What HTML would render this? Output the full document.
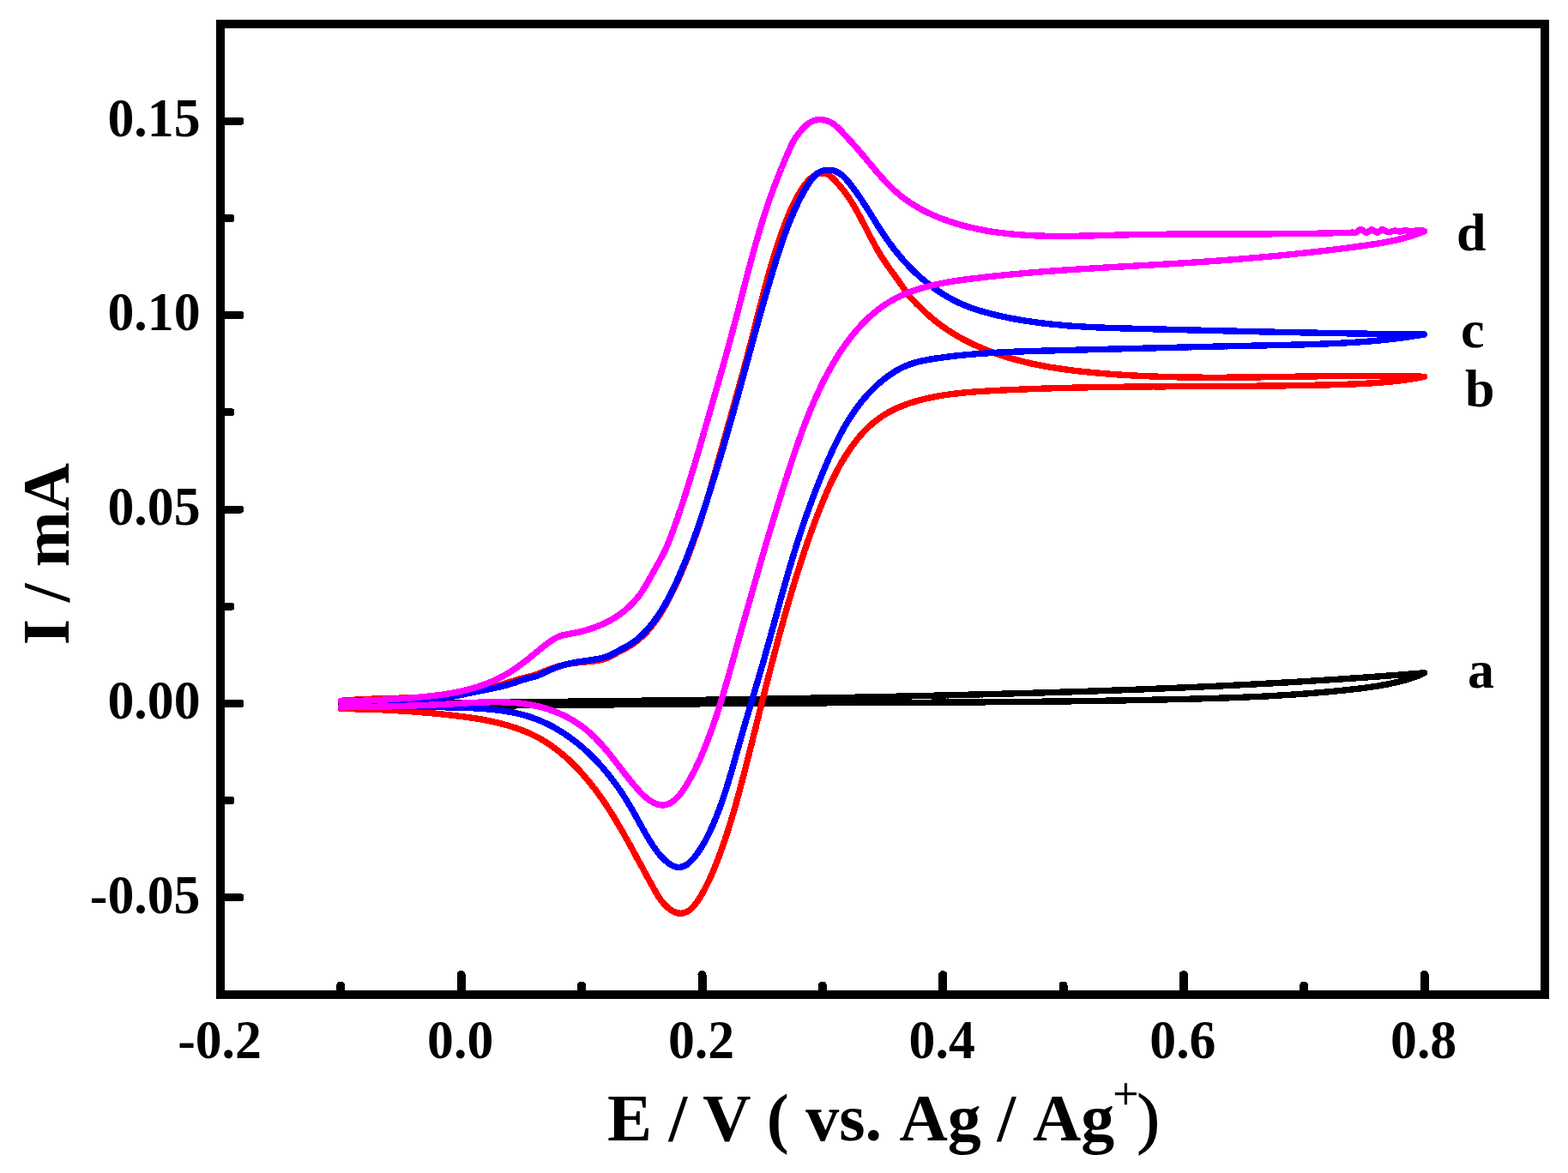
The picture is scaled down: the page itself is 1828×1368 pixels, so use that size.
<!DOCTYPE html>
<html lang="en">
<head>
<meta charset="utf-8">
<title>Cyclic voltammograms</title>
<style>
html,body{margin:0;padding:0;background:#fff;}
body{width:1828px;height:1368px;overflow:hidden;}
svg{display:block;}
text{font-family:"Liberation Serif","Times New Roman",serif;font-weight:bold;fill:#000;}
.tk{font-size:64px;}
.lb{font-size:62px;}
.ti{font-size:78px;}
.cv{fill:none;stroke-width:7.4;stroke-linejoin:round;stroke-linecap:round;}
.ax{stroke:#000;stroke-width:9.5;stroke-linecap:round;fill:none;}
</style>
</head>
<body>
<svg width="1828" height="1368" viewBox="0 0 1828 1368" shape-rendering="crispEdges">
<rect x="0" y="0" width="1828" height="1368" fill="#fff"/>
<g class="cv">
<path stroke="#000000" d="M397.4,820.5 L399.4,820.5 L401.4,820.5 L403.4,820.5 L405.4,820.4 L407.4,820.4 L409.4,820.4 L411.4,820.4 L413.4,820.4 L415.5,820.4 L417.5,820.3 L419.5,820.3 L421.5,820.3 L423.5,820.3 L425.5,820.3 L427.5,820.3 L429.5,820.3 L431.5,820.2 L433.5,820.2 L435.5,820.2 L437.5,820.2 L439.5,820.2 L441.5,820.2 L443.5,820.1 L445.5,820.1 L447.6,820.1 L449.6,820.1 L451.6,820.1 L453.6,820.1 L455.6,820.1 L457.6,820.0 L459.6,820.0 L461.6,820.0 L463.6,820.0 L465.6,820.0 L467.6,820.0 L469.6,819.9 L471.6,819.9 L473.6,819.9 L475.6,819.9 L477.6,819.9 L479.6,819.9 L481.7,819.8 L483.7,819.8 L485.7,819.8 L487.7,819.8 L489.7,819.8 L491.7,819.8 L493.7,819.7 L495.7,819.7 L497.7,819.7 L499.7,819.7 L501.7,819.7 L503.7,819.7 L505.7,819.6 L507.7,819.6 L509.7,819.6 L511.7,819.6 L513.8,819.6 L515.8,819.6 L517.8,819.5 L519.8,819.5 L521.8,819.5 L523.8,819.5 L525.8,819.5 L527.8,819.5 L529.8,819.4 L531.8,819.4 L533.8,819.4 L535.8,819.4 L537.8,819.4 L539.8,819.3 L541.8,819.3 L543.8,819.3 L545.8,819.3 L547.9,819.3 L549.9,819.3 L551.9,819.2 L553.9,819.2 L555.9,819.2 L557.9,819.2 L559.9,819.2 L561.9,819.2 L563.9,819.1 L565.9,819.1 L567.9,819.1 L569.9,819.1 L571.9,819.1 L573.9,819.0 L575.9,819.0 L577.9,819.0 L580.0,819.0 L582.0,819.0 L584.0,818.9 L586.0,818.9 L588.0,818.9 L590.0,818.9 L592.0,818.9 L594.0,818.9 L596.0,818.8 L598.0,818.8 L600.0,818.8 L602.0,818.8 L604.0,818.8 L606.0,818.7 L608.0,818.7 L610.0,818.7 L612.1,818.7 L614.1,818.7 L616.1,818.6 L618.1,818.6 L620.1,818.6 L622.1,818.6 L624.1,818.6 L626.1,818.5 L628.1,818.5 L630.1,818.5 L632.1,818.5 L634.1,818.5 L636.1,818.4 L638.1,818.4 L640.1,818.4 L642.1,818.4 L644.1,818.4 L646.2,818.3 L648.2,818.3 L650.2,818.3 L652.2,818.3 L654.2,818.3 L656.2,818.2 L658.2,818.2 L660.2,818.2 L662.2,818.2 L664.2,818.1 L666.2,818.1 L668.2,818.1 L670.2,818.1 L672.2,818.1 L674.2,818.0 L676.2,818.0 L678.3,818.0 L680.3,818.0 L682.3,817.9 L684.3,817.9 L686.3,817.9 L688.3,817.9 L690.3,817.9 L692.3,817.8 L694.3,817.8 L696.3,817.8 L698.3,817.8 L700.3,817.7 L702.3,817.7 L704.3,817.7 L706.3,817.7 L708.3,817.7 L710.3,817.6 L712.4,817.6 L714.4,817.6 L716.4,817.6 L718.4,817.5 L720.4,817.5 L722.4,817.5 L724.4,817.5 L726.4,817.4 L728.4,817.4 L730.4,817.4 L732.4,817.4 L734.4,817.3 L736.4,817.3 L738.4,817.3 L740.4,817.3 L742.4,817.2 L744.4,817.2 L746.5,817.2 L748.5,817.2 L750.5,817.1 L752.5,817.1 L754.5,817.1 L756.5,817.1 L758.5,817.0 L760.5,817.0 L762.5,817.0 L764.5,817.0 L766.5,816.9 L768.5,816.9 L770.5,816.9 L772.5,816.9 L774.5,816.8 L776.5,816.8 L778.6,816.8 L780.6,816.8 L782.6,816.7 L784.6,816.7 L786.6,816.7 L788.6,816.6 L790.6,816.6 L792.6,816.6 L794.6,816.6 L796.6,816.5 L798.6,816.5 L800.6,816.5 L802.6,816.5 L804.6,816.4 L806.6,816.4 L808.6,816.4 L810.6,816.3 L812.7,816.3 L814.7,816.3 L816.7,816.3 L818.7,816.2 L820.7,816.2 L822.7,816.2 L824.7,816.1 L826.7,816.1 L828.7,816.1 L830.7,816.1 L832.7,816.0 L834.7,816.0 L836.7,816.0 L838.7,815.9 L840.7,815.9 L842.7,815.9 L844.7,815.8 L846.8,815.8 L848.8,815.8 L850.8,815.8 L852.8,815.7 L854.8,815.7 L856.8,815.7 L858.8,815.6 L860.8,815.6 L862.8,815.6 L864.8,815.5 L866.8,815.5 L868.8,815.5 L870.8,815.4 L872.8,815.4 L874.8,815.4 L876.8,815.3 L878.8,815.3 L880.9,815.3 L882.9,815.3 L884.9,815.2 L886.9,815.2 L888.9,815.2 L890.9,815.1 L892.9,815.1 L894.9,815.1 L896.9,815.0 L898.9,815.0 L900.9,815.0 L902.9,814.9 L904.9,814.9 L906.9,814.9 L908.9,814.8 L910.9,814.8 L912.9,814.7 L915.0,814.7 L917.0,814.7 L919.0,814.6 L921.0,814.6 L923.0,814.6 L925.0,814.5 L927.0,814.5 L929.0,814.5 L931.0,814.4 L933.0,814.4 L935.0,814.4 L937.0,814.3 L939.0,814.3 L941.0,814.3 L943.0,814.2 L945.0,814.2 L947.0,814.1 L949.1,814.1 L951.1,814.1 L953.1,814.0 L955.1,814.0 L957.1,814.0 L959.1,813.9 L961.1,813.9 L963.1,813.8 L965.1,813.8 L967.1,813.8 L969.1,813.7 L971.1,813.7 L973.1,813.7 L975.1,813.6 L977.1,813.6 L979.1,813.5 L981.1,813.5 L983.2,813.5 L985.2,813.4 L987.2,813.4 L989.2,813.3 L991.2,813.3 L993.2,813.3 L995.2,813.2 L997.2,813.2 L999.2,813.1 L1001.2,813.1 L1003.2,813.1 L1005.2,813.0 L1007.2,813.0 L1009.2,812.9 L1011.2,812.9 L1013.2,812.9 L1015.2,812.8 L1017.2,812.8 L1019.3,812.7 L1021.3,812.7 L1023.3,812.7 L1025.3,812.6 L1027.3,812.6 L1029.3,812.5 L1031.3,812.5 L1033.3,812.4 L1035.3,812.4 L1037.3,812.4 L1039.3,812.3 L1041.3,812.3 L1043.3,812.2 L1045.3,812.2 L1047.3,812.1 L1049.3,812.1 L1051.3,812.0 L1053.4,812.0 L1055.4,812.0 L1057.4,811.9 L1059.4,811.9 L1061.4,811.8 L1063.4,811.8 L1065.4,811.7 L1067.4,811.7 L1069.4,811.6 L1071.4,811.6 L1073.4,811.5 L1075.4,811.5 L1077.4,811.5 L1079.4,811.4 L1081.4,811.4 L1083.4,811.3 L1085.4,811.3 L1087.4,811.2 L1089.5,811.2 L1091.5,811.1 L1093.5,811.1 L1095.5,811.0 L1097.5,811.0 L1099.5,810.9 L1101.5,810.9 L1103.5,810.8 L1105.5,810.8 L1107.5,810.7 L1109.5,810.7 L1111.5,810.6 L1113.5,810.6 L1115.5,810.5 L1117.5,810.5 L1119.5,810.4 L1121.5,810.4 L1123.5,810.3 L1125.6,810.3 L1127.6,810.2 L1129.6,810.2 L1131.6,810.1 L1133.6,810.1 L1135.6,810.0 L1137.6,810.0 L1139.6,809.9 L1141.6,809.9 L1143.6,809.8 L1145.6,809.8 L1147.6,809.7 L1149.6,809.7 L1151.6,809.6 L1153.6,809.6 L1155.6,809.5 L1157.6,809.5 L1159.6,809.4 L1161.7,809.4 L1163.7,809.3 L1165.7,809.2 L1167.7,809.2 L1169.7,809.1 L1171.7,809.1 L1173.7,809.0 L1175.7,809.0 L1177.7,808.9 L1179.7,808.9 L1181.7,808.8 L1183.7,808.7 L1185.7,808.7 L1187.7,808.6 L1189.7,808.6 L1191.7,808.5 L1193.7,808.5 L1195.7,808.4 L1197.8,808.3 L1199.8,808.3 L1201.8,808.2 L1203.8,808.2 L1205.8,808.1 L1207.8,808.1 L1209.8,808.0 L1211.8,807.9 L1213.8,807.9 L1215.8,807.8 L1217.8,807.8 L1219.8,807.7 L1221.8,807.6 L1223.8,807.6 L1225.8,807.5 L1227.8,807.5 L1229.8,807.4 L1231.8,807.3 L1233.8,807.3 L1235.9,807.2 L1237.9,807.1 L1239.9,807.1 L1241.9,807.0 L1243.9,807.0 L1245.9,806.9 L1247.9,806.8 L1249.9,806.8 L1251.9,806.7 L1253.9,806.6 L1255.9,806.6 L1257.9,806.5 L1259.9,806.4 L1261.9,806.4 L1263.9,806.3 L1265.9,806.2 L1267.9,806.2 L1269.9,806.1 L1271.9,806.0 L1273.9,806.0 L1276.0,805.9 L1278.0,805.8 L1280.0,805.8 L1282.0,805.7 L1284.0,805.6 L1286.0,805.6 L1288.0,805.5 L1290.0,805.4 L1292.0,805.3 L1294.0,805.3 L1296.0,805.2 L1298.0,805.1 L1300.0,805.1 L1302.0,805.0 L1304.0,804.9 L1306.0,804.8 L1308.0,804.8 L1310.0,804.7 L1312.0,804.6 L1314.0,804.5 L1316.1,804.5 L1318.1,804.4 L1320.1,804.3 L1322.1,804.2 L1324.1,804.2 L1326.1,804.1 L1328.1,804.0 L1330.1,803.9 L1332.1,803.9 L1334.1,803.8 L1336.1,803.7 L1338.1,803.6 L1340.1,803.5 L1342.1,803.5 L1344.1,803.4 L1346.1,803.3 L1348.1,803.2 L1350.1,803.1 L1352.1,803.1 L1354.1,803.0 L1356.1,802.9 L1358.1,802.8 L1360.2,802.7 L1362.2,802.7 L1364.2,802.6 L1366.2,802.5 L1368.2,802.4 L1370.2,802.3 L1372.2,802.2 L1374.2,802.1 L1376.2,802.1 L1378.2,802.0 L1380.2,801.9 L1382.2,801.8 L1384.2,801.7 L1386.2,801.6 L1388.2,801.5 L1390.2,801.4 L1392.2,801.4 L1394.2,801.3 L1396.2,801.2 L1398.2,801.1 L1400.2,801.0 L1402.2,800.9 L1404.2,800.8 L1406.2,800.7 L1408.2,800.6 L1410.3,800.5 L1412.3,800.4 L1414.3,800.3 L1416.3,800.3 L1418.3,800.2 L1420.3,800.1 L1422.3,800.0 L1424.3,799.9 L1426.3,799.8 L1428.3,799.7 L1430.3,799.6 L1432.3,799.5 L1434.3,799.4 L1436.3,799.3 L1438.3,799.2 L1440.3,799.1 L1442.3,799.0 L1444.3,798.9 L1446.3,798.8 L1448.3,798.7 L1450.3,798.6 L1452.3,798.5 L1454.3,798.4 L1456.3,798.3 L1458.3,798.2 L1460.3,798.1 L1462.3,798.0 L1464.3,797.9 L1466.3,797.7 L1468.4,797.6 L1470.4,797.5 L1472.4,797.4 L1474.4,797.3 L1476.4,797.2 L1478.4,797.1 L1480.4,797.0 L1482.4,796.9 L1484.4,796.8 L1486.4,796.7 L1488.4,796.5 L1490.4,796.4 L1492.4,796.3 L1494.4,796.2 L1496.4,796.1 L1498.4,796.0 L1500.4,795.9 L1502.4,795.7 L1504.4,795.6 L1506.4,795.5 L1508.4,795.4 L1510.4,795.3 L1512.4,795.2 L1514.4,795.0 L1516.4,794.9 L1518.4,794.8 L1520.4,794.7 L1522.4,794.6 L1524.4,794.4 L1526.4,794.3 L1528.4,794.2 L1530.4,794.1 L1532.4,794.0 L1534.4,793.8 L1536.4,793.7 L1538.4,793.6 L1540.4,793.5 L1542.4,793.3 L1544.4,793.2 L1546.4,793.1 L1548.5,792.9 L1550.5,792.8 L1552.5,792.7 L1554.5,792.6 L1556.5,792.4 L1558.5,792.3 L1560.5,792.2 L1562.5,792.0 L1564.5,791.9 L1566.5,791.8 L1568.5,791.6 L1570.5,791.5 L1572.5,791.4 L1574.5,791.2 L1576.5,791.1 L1578.5,791.0 L1580.5,790.8 L1582.5,790.7 L1584.5,790.5 L1586.5,790.4 L1588.5,790.3 L1590.5,790.1 L1592.5,790.0 L1594.5,789.8 L1596.5,789.7 L1598.5,789.6 L1600.5,789.4 L1602.5,789.3 L1604.5,789.1 L1606.5,789.0 L1608.5,788.8 L1610.5,788.7 L1612.5,788.5 L1614.5,788.4 L1616.5,788.2 L1618.5,788.1 L1620.5,787.9 L1622.5,787.8 L1624.5,787.6 L1626.5,787.5 L1628.5,787.3 L1630.5,787.2 L1632.5,787.0 L1634.5,786.9 L1636.5,786.7 L1638.5,786.6 L1640.5,786.4 L1642.5,786.2 L1644.5,786.1 L1646.5,785.9 L1648.5,785.8 L1650.5,785.6 L1652.5,785.4 L1654.5,785.3 L1656.5,785.1 L1658.5,785.0 L1660.5,784.8 L1660.5,784.8 L1658.7,785.7 L1656.9,786.5 L1655.1,787.3 L1653.2,788.1 L1651.4,788.8 L1649.5,789.5 L1647.6,790.2 L1645.8,790.8 L1643.9,791.4 L1642.0,792.0 L1640.1,792.6 L1638.1,793.1 L1636.2,793.6 L1634.3,794.2 L1632.4,794.6 L1630.4,795.1 L1628.5,795.6 L1626.5,796.0 L1624.6,796.5 L1622.6,796.9 L1620.7,797.3 L1618.7,797.7 L1616.8,798.1 L1614.8,798.5 L1612.8,798.8 L1610.9,799.2 L1608.9,799.5 L1606.9,799.9 L1605.0,800.2 L1603.0,800.5 L1601.0,800.8 L1599.0,801.1 L1597.0,801.4 L1595.0,801.7 L1593.0,801.9 L1591.1,802.2 L1589.1,802.5 L1587.1,802.7 L1585.1,803.0 L1583.1,803.2 L1581.1,803.4 L1579.1,803.7 L1577.1,803.9 L1575.1,804.1 L1573.1,804.3 L1571.1,804.6 L1569.1,804.8 L1567.1,805.0 L1565.1,805.2 L1563.1,805.4 L1561.1,805.6 L1559.1,805.8 L1557.1,806.0 L1555.1,806.2 L1553.1,806.4 L1551.1,806.6 L1549.1,806.8 L1547.1,806.9 L1545.1,807.1 L1543.1,807.3 L1541.1,807.5 L1539.1,807.6 L1537.1,807.8 L1535.1,808.0 L1533.1,808.1 L1531.1,808.3 L1529.1,808.5 L1527.1,808.6 L1525.1,808.8 L1523.1,808.9 L1521.1,809.1 L1519.1,809.2 L1517.1,809.4 L1515.1,809.5 L1513.1,809.7 L1511.1,809.8 L1509.1,809.9 L1507.1,810.1 L1505.1,810.2 L1503.1,810.3 L1501.1,810.5 L1499.1,810.6 L1497.1,810.7 L1495.1,810.8 L1493.1,811.0 L1491.1,811.1 L1489.1,811.2 L1487.1,811.3 L1485.1,811.4 L1483.1,811.5 L1481.1,811.6 L1479.1,811.8 L1477.1,811.9 L1475.1,812.0 L1473.1,812.1 L1471.1,812.2 L1469.1,812.3 L1467.1,812.4 L1465.1,812.5 L1463.1,812.5 L1461.1,812.6 L1459.1,812.7 L1457.1,812.8 L1455.1,812.9 L1453.1,813.0 L1451.1,813.1 L1449.1,813.2 L1447.1,813.2 L1445.1,813.3 L1443.1,813.4 L1441.1,813.5 L1439.1,813.6 L1437.1,813.6 L1435.1,813.7 L1433.1,813.8 L1431.1,813.9 L1429.1,813.9 L1427.1,814.0 L1425.1,814.1 L1423.1,814.1 L1421.1,814.2 L1419.1,814.3 L1417.1,814.3 L1415.1,814.4 L1413.1,814.4 L1411.1,814.5 L1409.1,814.6 L1407.1,814.6 L1405.1,814.7 L1403.1,814.7 L1401.1,814.8 L1399.1,814.9 L1397.1,814.9 L1395.1,815.0 L1393.1,815.0 L1391.1,815.1 L1389.1,815.1 L1387.1,815.2 L1385.1,815.2 L1383.1,815.3 L1381.1,815.3 L1379.1,815.4 L1377.1,815.4 L1375.1,815.5 L1373.1,815.5 L1371.1,815.6 L1369.1,815.6 L1367.0,815.7 L1365.0,815.7 L1363.0,815.7 L1361.0,815.8 L1359.0,815.8 L1357.0,815.9 L1355.0,815.9 L1353.0,816.0 L1351.0,816.0 L1349.0,816.1 L1347.0,816.1 L1345.0,816.1 L1343.0,816.2 L1341.0,816.2 L1339.0,816.3 L1337.0,816.3 L1335.0,816.3 L1333.0,816.4 L1331.0,816.4 L1329.0,816.5 L1327.0,816.5 L1325.0,816.5 L1323.0,816.6 L1321.0,816.6 L1319.0,816.7 L1317.0,816.7 L1315.0,816.7 L1313.0,816.8 L1311.0,816.8 L1309.0,816.8 L1307.0,816.9 L1305.0,816.9 L1303.0,816.9 L1301.0,817.0 L1299.0,817.0 L1297.0,817.0 L1295.0,817.1 L1293.0,817.1 L1291.0,817.1 L1289.0,817.2 L1287.0,817.2 L1284.9,817.2 L1282.9,817.3 L1280.9,817.3 L1278.9,817.3 L1276.9,817.4 L1274.9,817.4 L1272.9,817.4 L1270.9,817.4 L1268.9,817.5 L1266.9,817.5 L1264.9,817.5 L1262.9,817.6 L1260.9,817.6 L1258.9,817.6 L1256.9,817.6 L1254.9,817.7 L1252.9,817.7 L1250.9,817.7 L1248.9,817.8 L1246.9,817.8 L1244.9,817.8 L1242.9,817.8 L1240.9,817.9 L1238.9,817.9 L1236.9,817.9 L1234.9,817.9 L1232.9,818.0 L1230.9,818.0 L1228.9,818.0 L1226.9,818.0 L1224.9,818.0 L1222.9,818.1 L1220.9,818.1 L1218.8,818.1 L1216.8,818.1 L1214.8,818.2 L1212.8,818.2 L1210.8,818.2 L1208.8,818.2 L1206.8,818.2 L1204.8,818.3 L1202.8,818.3 L1200.8,818.3 L1198.8,818.3 L1196.8,818.3 L1194.8,818.4 L1192.8,818.4 L1190.8,818.4 L1188.8,818.4 L1186.8,818.4 L1184.8,818.5 L1182.8,818.5 L1180.8,818.5 L1178.8,818.5 L1176.8,818.5 L1174.8,818.5 L1172.8,818.6 L1170.8,818.6 L1168.8,818.6 L1166.8,818.6 L1164.8,818.6 L1162.8,818.6 L1160.7,818.7 L1158.7,818.7 L1156.7,818.7 L1154.7,818.7 L1152.7,818.7 L1150.7,818.7 L1148.7,818.8 L1146.7,818.8 L1144.7,818.8 L1142.7,818.8 L1140.7,818.8 L1138.7,818.8 L1136.7,818.8 L1134.7,818.9 L1132.7,818.9 L1130.7,818.9 L1128.7,818.9 L1126.7,818.9 L1124.7,818.9 L1122.7,818.9 L1120.7,819.0 L1118.7,819.0 L1116.7,819.0 L1114.7,819.0 L1112.7,819.0 L1110.7,819.0 L1108.7,819.0 L1106.6,819.0 L1104.6,819.1 L1102.6,819.1 L1100.6,819.1 L1098.6,819.1 L1096.6,819.1 L1094.6,819.1 L1092.6,819.1 L1090.6,819.1 L1088.6,819.1 L1086.6,819.2 L1084.6,819.2 L1082.6,819.2 L1080.6,819.2 L1078.6,819.2 L1076.6,819.2 L1074.6,819.2 L1072.6,819.2 L1070.6,819.2 L1068.6,819.3 L1066.6,819.3 L1064.6,819.3 L1062.6,819.3 L1060.6,819.3 L1058.6,819.3 L1056.6,819.3 L1054.5,819.3 L1052.5,819.3 L1050.5,819.3 L1048.5,819.4 L1046.5,819.4 L1044.5,819.4 L1042.5,819.4 L1040.5,819.4 L1038.5,819.4 L1036.5,819.4 L1034.5,819.4 L1032.5,819.4 L1030.5,819.4 L1028.5,819.4 L1026.5,819.5 L1024.5,819.5 L1022.5,819.5 L1020.5,819.5 L1018.5,819.5 L1016.5,819.5 L1014.5,819.5 L1012.5,819.5 L1010.5,819.5 L1008.5,819.5 L1006.5,819.6 L1004.5,819.6 L1002.4,819.6 L1000.4,819.6 L998.4,819.6 L996.4,819.6 L994.4,819.6 L992.4,819.6 L990.4,819.6 L988.4,819.6 L986.4,819.6 L984.4,819.7 L982.4,819.7 L980.4,819.7 L978.4,819.7 L976.4,819.7 L974.4,819.7 L972.4,819.7 L970.4,819.7 L968.4,819.7 L966.4,819.7 L964.4,819.8 L962.4,819.8 L960.4,819.8 L958.4,819.8 L956.4,819.8 L954.4,819.8 L952.3,819.8 L950.3,819.8 L948.3,819.8 L946.3,819.8 L944.3,819.9 L942.3,819.9 L940.3,819.9 L938.3,819.9 L936.3,819.9 L934.3,819.9 L932.3,819.9 L930.3,819.9 L928.3,819.9 L926.3,820.0 L924.3,820.0 L922.3,820.0 L920.3,820.0 L918.3,820.0 L916.3,820.0 L914.3,820.0 L912.3,820.0 L910.3,820.0 L908.3,820.1 L906.3,820.1 L904.3,820.1 L902.3,820.1 L900.3,820.1 L898.2,820.1 L896.2,820.1 L894.2,820.1 L892.2,820.2 L890.2,820.2 L888.2,820.2 L886.2,820.2 L884.2,820.2 L882.2,820.2 L880.2,820.2 L878.2,820.2 L876.2,820.3 L874.2,820.3 L872.2,820.3 L870.2,820.3 L868.2,820.3 L866.2,820.3 L864.2,820.4 L862.2,820.4 L860.2,820.4 L858.2,820.4 L856.2,820.4 L854.2,820.4 L852.2,820.4 L850.2,820.5 L848.2,820.5 L846.2,820.5 L844.2,820.5 L842.1,820.5 L840.1,820.5 L838.1,820.6 L836.1,820.6 L834.1,820.6 L832.1,820.6 L830.1,820.6 L828.1,820.6 L826.1,820.7 L824.1,820.7 L822.1,820.7 L820.1,820.7 L818.1,820.7 L816.1,820.8 L814.1,820.8 L812.1,820.8 L810.1,820.8 L808.1,820.8 L806.1,820.8 L804.1,820.9 L802.1,820.9 L800.1,820.9 L798.1,820.9 L796.1,820.9 L794.1,821.0 L792.1,821.0 L790.1,821.0 L788.1,821.0 L786.1,821.0 L784.1,821.1 L782.1,821.1 L780.0,821.1 L778.0,821.1 L776.0,821.1 L774.0,821.2 L772.0,821.2 L770.0,821.2 L768.0,821.2 L766.0,821.2 L764.0,821.3 L762.0,821.3 L760.0,821.3 L758.0,821.3 L756.0,821.3 L754.0,821.4 L752.0,821.4 L750.0,821.4 L748.0,821.4 L746.0,821.4 L744.0,821.5 L742.0,821.5 L740.0,821.5 L738.0,821.5 L736.0,821.6 L734.0,821.6 L732.0,821.6 L730.0,821.6 L728.0,821.6 L726.0,821.7 L724.0,821.7 L722.0,821.7 L720.0,821.7 L718.0,821.7 L715.9,821.8 L713.9,821.8 L711.9,821.8 L709.9,821.8 L707.9,821.8 L705.9,821.9 L703.9,821.9 L701.9,821.9 L699.9,821.9 L697.9,821.9 L695.9,822.0 L693.9,822.0 L691.9,822.0 L689.9,822.0 L687.9,822.0 L685.9,822.1 L683.9,822.1 L681.9,822.1 L679.9,822.1 L677.9,822.1 L675.9,822.1 L673.9,822.2 L671.9,822.2 L669.9,822.2 L667.9,822.2 L665.9,822.2 L663.9,822.3 L661.9,822.3 L659.9,822.3 L657.9,822.3 L655.9,822.3 L653.9,822.3 L651.9,822.4 L649.8,822.4 L647.8,822.4 L645.8,822.4 L643.8,822.4 L641.8,822.5 L639.8,822.5 L637.8,822.5 L635.8,822.5 L633.8,822.5 L631.8,822.5 L629.8,822.6 L627.8,822.6 L625.8,822.6 L623.8,822.6 L621.8,822.6 L619.8,822.6 L617.8,822.6 L615.8,822.7 L613.8,822.7 L611.8,822.7 L609.8,822.7 L607.8,822.7 L605.8,822.7 L603.8,822.7 L601.8,822.8 L599.8,822.8 L597.8,822.8 L595.8,822.8 L593.8,822.8 L591.8,822.8 L589.8,822.8 L587.8,822.8 L585.7,822.9 L583.7,822.9 L581.7,822.9 L579.7,822.9 L577.7,822.9 L575.7,822.9 L573.7,822.9 L571.7,822.9 L569.7,822.9 L567.7,822.9 L565.7,823.0 L563.7,823.0 L561.7,823.0 L559.7,823.0 L557.7,823.0 L555.7,823.0 L553.7,823.0 L551.7,823.0 L549.7,823.0 L547.7,823.0 L545.7,823.0 L543.7,823.0 L541.7,823.0 L539.7,823.0 L537.7,823.1 L535.7,823.1 L533.7,823.1 L531.7,823.1 L529.7,823.1 L527.7,823.1 L525.6,823.1 L523.6,823.1 L521.6,823.1 L519.6,823.1 L517.6,823.1 L515.6,823.1 L513.6,823.1 L511.6,823.1 L509.6,823.1 L507.6,823.1 L505.6,823.1 L503.6,823.1 L501.6,823.1 L499.6,823.1 L497.6,823.1 L495.6,823.1 L493.6,823.1 L491.6,823.1 L489.6,823.1 L487.6,823.1 L485.6,823.1 L483.6,823.1 L481.6,823.1 L479.6,823.1 L477.6,823.1 L475.6,823.1 L473.6,823.0 L471.6,823.0 L469.5,823.0 L467.5,823.0 L465.5,823.0 L463.5,823.0 L461.5,823.0 L459.5,823.0 L457.5,823.0 L455.5,823.0 L453.5,823.0 L451.5,823.0 L449.5,822.9 L447.5,822.9 L445.5,822.9 L443.5,822.9 L441.5,822.9 L439.5,822.9 L437.5,822.9 L435.5,822.9 L433.5,822.8 L431.5,822.8 L429.5,822.8 L427.5,822.8 L425.5,822.8 L423.5,822.8 L421.5,822.7 L419.4,822.7 L417.4,822.7 L415.4,822.7 L413.4,822.7 L411.4,822.7 L409.4,822.6 L407.4,822.6 L405.4,822.6 L403.4,822.6 L401.4,822.5 L399.4,822.5 L397.4,822.5"/>
<path stroke="#ff0000" d="M397.4,817.4 L399.4,817.2 L401.3,817.0 L403.3,816.9 L405.3,816.7 L407.3,816.6 L409.3,816.4 L411.2,816.3 L413.2,816.2 L415.2,816.0 L417.2,815.9 L419.2,815.8 L421.2,815.7 L423.2,815.6 L425.2,815.5 L427.2,815.4 L429.2,815.3 L431.2,815.2 L433.2,815.2 L435.2,815.1 L437.2,815.0 L439.2,815.0 L441.2,814.9 L443.2,814.8 L445.2,814.8 L447.2,814.7 L449.2,814.6 L451.2,814.6 L453.3,814.5 L455.3,814.5 L457.3,814.4 L459.3,814.4 L461.3,814.3 L463.3,814.3 L465.3,814.2 L467.4,814.1 L469.4,814.1 L471.4,814.0 L473.4,814.0 L475.4,813.9 L477.4,813.8 L479.4,813.8 L481.5,813.7 L483.5,813.6 L485.5,813.5 L487.5,813.5 L489.5,813.4 L491.5,813.3 L493.5,813.2 L495.5,813.1 L497.5,813.0 L499.6,812.9 L501.6,812.8 L503.6,812.6 L505.6,812.5 L507.6,812.4 L509.6,812.2 L511.6,812.1 L513.6,811.9 L515.6,811.7 L517.6,811.6 L519.6,811.4 L521.6,811.2 L523.6,811.0 L525.6,810.8 L527.6,810.6 L529.5,810.3 L531.5,810.1 L533.5,809.9 L535.5,809.6 L537.5,809.3 L539.5,809.0 L541.4,808.7 L543.4,808.4 L545.4,808.1 L547.3,807.8 L549.3,807.4 L551.3,807.1 L553.2,806.7 L555.2,806.3 L557.1,805.9 L559.1,805.5 L561.1,805.1 L563.0,804.7 L564.9,804.2 L566.9,803.7 L568.8,803.3 L570.8,802.8 L572.7,802.2 L574.6,801.7 L576.5,801.2 L578.5,800.6 L580.4,800.0 L582.3,799.4 L584.2,798.8 L586.1,798.2 L588.0,797.5 L589.9,796.9 L591.8,796.3 L593.7,795.6 L595.6,795.0 L597.6,794.4 L599.5,793.8 L601.4,793.2 L603.3,792.6 L605.2,792.1 L607.2,791.5 L609.1,791.0 L611.1,790.6 L613.0,790.1 L614.9,789.6 L616.9,789.1 L618.8,788.6 L620.7,788.1 L622.6,787.5 L624.5,786.9 L626.4,786.3 L628.3,785.6 L630.1,784.8 L632.0,784.1 L633.8,783.3 L635.7,782.5 L637.6,781.8 L639.4,781.0 L641.3,780.3 L643.2,779.6 L645.1,779.0 L647.0,778.3 L648.9,777.7 L650.8,777.2 L652.7,776.6 L654.7,776.1 L656.6,775.6 L658.6,775.2 L660.5,774.7 L662.5,774.4 L664.5,774.0 L666.4,773.7 L668.4,773.4 L670.4,773.2 L672.4,773.0 L674.4,772.8 L676.4,772.6 L678.4,772.4 L680.4,772.2 L682.4,772.0 L684.4,771.8 L686.4,771.6 L688.4,771.4 L690.4,771.2 L692.4,771.0 L694.4,770.7 L696.3,770.4 L698.3,770.0 L700.3,769.6 L702.2,769.2 L704.1,768.6 L706.0,768.0 L707.9,767.4 L709.7,766.6 L711.5,765.8 L713.3,764.9 L715.1,763.9 L716.8,762.9 L718.6,761.9 L720.3,760.9 L722.1,759.9 L723.8,759.0 L725.6,758.1 L727.3,757.2 L729.1,756.3 L730.9,755.3 L732.6,754.3 L734.3,753.3 L736.1,752.2 L737.7,751.0 L739.4,749.9 L741.0,748.7 L742.6,747.4 L744.2,746.1 L745.7,744.8 L747.3,743.5 L748.7,742.2 L750.2,740.8 L751.6,739.4 L753.0,737.9 L754.4,736.5 L755.7,735.0 L757.0,733.5 L758.3,732.0 L759.5,730.5 L760.8,728.9 L762.0,727.3 L763.2,725.7 L764.4,724.1 L765.5,722.5 L766.7,720.8 L767.8,719.2 L768.9,717.5 L769.9,715.8 L771.0,714.1 L772.0,712.4 L773.1,710.7 L774.1,709.0 L775.1,707.2 L776.0,705.5 L777.0,703.7 L778.0,701.9 L778.9,700.2 L779.8,698.4 L780.8,696.6 L781.7,694.8 L782.6,693.0 L783.5,691.2 L784.4,689.4 L785.3,687.6 L786.1,685.8 L787.0,684.0 L787.8,682.2 L788.7,680.3 L789.5,678.5 L790.4,676.7 L791.2,674.9 L792.0,673.1 L792.8,671.2 L793.6,669.4 L794.4,667.6 L795.2,665.7 L796.0,663.9 L796.8,662.0 L797.5,660.2 L798.3,658.3 L799.0,656.5 L799.8,654.6 L800.5,652.8 L801.3,650.9 L802.0,649.0 L802.7,647.2 L803.4,645.3 L804.1,643.4 L804.8,641.6 L805.5,639.7 L806.2,637.8 L806.9,635.9 L807.6,634.1 L808.3,632.2 L809.0,630.3 L809.6,628.4 L810.3,626.5 L811.0,624.6 L811.6,622.7 L812.3,620.8 L812.9,619.0 L813.5,617.1 L814.2,615.2 L814.8,613.3 L815.4,611.4 L816.1,609.5 L816.7,607.5 L817.3,605.6 L817.9,603.7 L818.5,601.8 L819.1,599.9 L819.7,598.0 L820.3,596.1 L820.9,594.2 L821.5,592.3 L822.1,590.3 L822.7,588.4 L823.2,586.5 L823.8,584.6 L824.4,582.7 L825.0,580.7 L825.5,578.8 L826.1,576.9 L826.7,575.0 L827.2,573.0 L827.8,571.1 L828.4,569.2 L828.9,567.3 L829.5,565.3 L830.0,563.4 L830.6,561.5 L831.1,559.5 L831.7,557.6 L832.2,555.7 L832.8,553.8 L833.3,551.8 L833.9,549.9 L834.4,548.0 L835.0,546.0 L835.5,544.1 L836.0,542.2 L836.6,540.2 L837.1,538.3 L837.7,536.4 L838.2,534.4 L838.7,532.5 L839.3,530.6 L839.8,528.6 L840.3,526.7 L840.9,524.8 L841.4,522.8 L842.0,520.9 L842.5,519.0 L843.0,517.1 L843.6,515.1 L844.1,513.2 L844.7,511.3 L845.2,509.3 L845.7,507.4 L846.3,505.5 L846.8,503.6 L847.4,501.6 L847.9,499.7 L848.5,497.8 L849.0,495.8 L849.5,493.9 L850.1,492.0 L850.6,490.1 L851.2,488.1 L851.7,486.2 L852.2,484.3 L852.8,482.4 L853.3,480.4 L853.9,478.5 L854.4,476.6 L855.0,474.7 L855.5,472.7 L856.0,470.8 L856.6,468.9 L857.1,467.0 L857.6,465.0 L858.2,463.1 L858.7,461.2 L859.3,459.2 L859.8,457.3 L860.3,455.4 L860.9,453.5 L861.4,451.5 L861.9,449.6 L862.5,447.7 L863.0,445.7 L863.5,443.8 L864.1,441.9 L864.6,440.0 L865.1,438.0 L865.6,436.1 L866.2,434.2 L866.7,432.2 L867.2,430.3 L867.7,428.4 L868.3,426.4 L868.8,424.5 L869.3,422.6 L869.8,420.6 L870.3,418.7 L870.9,416.8 L871.4,414.8 L871.9,412.9 L872.4,411.0 L872.9,409.0 L873.4,407.1 L873.9,405.1 L874.4,403.2 L874.9,401.3 L875.4,399.3 L875.9,397.4 L876.4,395.4 L876.9,393.5 L877.4,391.6 L877.9,389.6 L878.4,387.7 L878.9,385.7 L879.4,383.8 L879.9,381.8 L880.4,379.9 L880.9,377.9 L881.4,376.0 L881.9,374.0 L882.3,372.1 L882.8,370.2 L883.3,368.2 L883.8,366.3 L884.3,364.3 L884.8,362.4 L885.3,360.4 L885.8,358.5 L886.3,356.5 L886.8,354.6 L887.3,352.6 L887.8,350.7 L888.3,348.8 L888.8,346.8 L889.3,344.9 L889.8,342.9 L890.3,341.0 L890.8,339.0 L891.3,337.1 L891.9,335.2 L892.4,333.2 L892.9,331.3 L893.4,329.4 L894.0,327.4 L894.5,325.5 L895.0,323.6 L895.6,321.6 L896.1,319.7 L896.6,317.8 L897.2,315.9 L897.7,313.9 L898.3,312.0 L898.9,310.1 L899.4,308.2 L900.0,306.2 L900.6,304.3 L901.1,302.4 L901.7,300.5 L902.3,298.6 L902.9,296.7 L903.5,294.8 L904.1,292.9 L904.7,291.0 L905.3,289.1 L906.0,287.2 L906.6,285.3 L907.2,283.4 L907.8,281.5 L908.5,279.6 L909.1,277.7 L909.8,275.8 L910.5,273.9 L911.1,272.0 L911.8,270.2 L912.5,268.3 L913.2,266.4 L913.9,264.5 L914.6,262.7 L915.3,260.8 L916.0,259.0 L916.7,257.1 L917.5,255.2 L918.2,253.4 L919.0,251.5 L919.7,249.7 L920.5,247.9 L921.3,246.0 L922.1,244.2 L922.9,242.4 L923.7,240.5 L924.6,238.7 L925.5,236.9 L926.4,235.1 L927.3,233.3 L928.2,231.6 L929.2,229.8 L930.2,228.0 L931.2,226.3 L932.2,224.6 L933.3,222.8 L934.4,221.1 L935.6,219.4 L936.7,217.7 L938.0,216.0 L939.2,214.4 L940.5,212.8 L941.9,211.3 L943.3,209.8 L944.7,208.4 L946.3,207.1 L947.9,205.9 L949.6,204.8 L951.3,203.8 L953.2,203.0 L955.0,202.4 L956.9,202.0 L958.8,201.8 L960.6,201.9 L962.4,202.3 L964.1,202.9 L965.8,203.8 L967.4,204.9 L968.9,206.2 L970.4,207.5 L971.9,209.0 L973.3,210.4 L974.7,211.9 L976.1,213.4 L977.5,214.9 L978.8,216.5 L980.1,218.0 L981.4,219.6 L982.7,221.1 L983.9,222.7 L985.1,224.4 L986.3,226.0 L987.4,227.6 L988.6,229.3 L989.7,230.9 L990.8,232.6 L991.9,234.3 L993.0,236.0 L994.0,237.7 L995.0,239.4 L996.1,241.1 L997.1,242.9 L998.1,244.6 L999.1,246.4 L1000.0,248.1 L1001.0,249.9 L1002.0,251.6 L1002.9,253.4 L1003.9,255.2 L1004.8,257.0 L1005.7,258.7 L1006.7,260.5 L1007.6,262.3 L1008.5,264.1 L1009.4,265.9 L1010.3,267.7 L1011.2,269.5 L1012.2,271.2 L1013.1,273.0 L1014.0,274.8 L1014.9,276.6 L1015.8,278.4 L1016.8,280.1 L1017.7,281.9 L1018.7,283.6 L1019.6,285.4 L1020.6,287.2 L1021.6,288.9 L1022.5,290.6 L1023.5,292.4 L1024.6,294.1 L1025.6,295.8 L1026.6,297.5 L1027.7,299.2 L1028.8,300.9 L1029.8,302.5 L1031.0,304.2 L1032.1,305.9 L1033.2,307.5 L1034.4,309.2 L1035.5,310.8 L1036.7,312.5 L1037.8,314.1 L1039.0,315.7 L1040.2,317.4 L1041.4,319.0 L1042.5,320.6 L1043.7,322.2 L1044.9,323.9 L1046.1,325.5 L1047.2,327.1 L1048.4,328.8 L1049.5,330.4 L1050.6,332.1 L1051.8,333.7 L1052.9,335.4 L1054.0,337.0 L1055.2,338.6 L1056.4,340.3 L1057.6,341.9 L1058.8,343.4 L1060.0,345.0 L1061.3,346.5 L1062.6,348.0 L1064.0,349.5 L1065.4,351.0 L1066.7,352.4 L1068.1,353.9 L1069.5,355.3 L1071.0,356.7 L1072.4,358.1 L1073.8,359.5 L1075.2,360.9 L1076.7,362.3 L1078.1,363.7 L1079.6,365.0 L1081.1,366.4 L1082.6,367.7 L1084.1,369.0 L1085.6,370.3 L1087.1,371.6 L1088.6,372.9 L1090.2,374.2 L1091.7,375.4 L1093.3,376.6 L1094.9,377.8 L1096.5,379.0 L1098.1,380.2 L1099.7,381.4 L1101.4,382.5 L1103.0,383.7 L1104.7,384.8 L1106.4,385.9 L1108.1,387.0 L1109.8,388.0 L1111.5,389.1 L1113.2,390.1 L1114.9,391.2 L1116.7,392.2 L1118.4,393.2 L1120.2,394.1 L1122.0,395.1 L1123.7,396.1 L1125.5,397.0 L1127.3,397.9 L1129.1,398.8 L1130.9,399.7 L1132.7,400.6 L1134.5,401.4 L1136.3,402.3 L1138.2,403.1 L1140.0,403.9 L1141.8,404.7 L1143.7,405.5 L1145.5,406.3 L1147.3,407.1 L1149.2,407.8 L1151.1,408.6 L1152.9,409.3 L1154.8,410.0 L1156.6,410.7 L1158.5,411.4 L1160.4,412.0 L1162.3,412.7 L1164.2,413.4 L1166.0,414.0 L1167.9,414.6 L1169.8,415.2 L1171.7,415.8 L1173.6,416.4 L1175.5,417.0 L1177.4,417.6 L1179.4,418.1 L1181.3,418.7 L1183.2,419.2 L1185.1,419.7 L1187.0,420.2 L1189.0,420.7 L1190.9,421.2 L1192.8,421.7 L1194.8,422.2 L1196.7,422.6 L1198.7,423.1 L1200.6,423.5 L1202.5,424.0 L1204.5,424.4 L1206.5,424.8 L1208.4,425.2 L1210.4,425.6 L1212.3,426.0 L1214.3,426.4 L1216.3,426.7 L1218.2,427.1 L1220.2,427.5 L1222.2,427.8 L1224.1,428.2 L1226.1,428.5 L1228.1,428.8 L1230.1,429.1 L1232.0,429.4 L1234.0,429.7 L1236.0,430.0 L1238.0,430.3 L1240.0,430.6 L1242.0,430.9 L1244.0,431.1 L1245.9,431.4 L1247.9,431.7 L1249.9,431.9 L1251.9,432.2 L1253.9,432.4 L1255.9,432.6 L1257.9,432.9 L1259.9,433.1 L1261.9,433.3 L1263.9,433.5 L1265.9,433.7 L1267.9,433.9 L1269.9,434.1 L1271.9,434.3 L1273.9,434.5 L1275.9,434.7 L1277.9,434.9 L1279.9,435.1 L1281.9,435.2 L1283.9,435.4 L1285.9,435.6 L1287.9,435.7 L1289.9,435.9 L1291.9,436.0 L1293.9,436.2 L1295.9,436.4 L1297.9,436.5 L1299.9,436.6 L1301.9,436.8 L1303.9,436.9 L1305.9,437.0 L1307.9,437.2 L1309.9,437.3 L1311.9,437.4 L1313.9,437.5 L1315.9,437.7 L1317.9,437.8 L1319.9,437.9 L1321.9,438.0 L1323.9,438.1 L1325.9,438.2 L1327.9,438.3 L1329.9,438.4 L1331.9,438.5 L1333.9,438.6 L1335.9,438.7 L1337.9,438.7 L1339.9,438.8 L1341.9,438.9 L1343.9,439.0 L1345.9,439.0 L1347.9,439.1 L1349.9,439.2 L1351.9,439.3 L1353.9,439.3 L1355.9,439.4 L1358.0,439.4 L1360.0,439.5 L1362.0,439.5 L1364.0,439.6 L1366.0,439.6 L1368.0,439.7 L1370.0,439.7 L1372.0,439.8 L1374.0,439.8 L1376.0,439.8 L1378.0,439.9 L1380.0,439.9 L1382.0,439.9 L1384.0,440.0 L1386.0,440.0 L1388.0,440.0 L1390.0,440.1 L1392.0,440.1 L1394.0,440.1 L1396.0,440.1 L1398.0,440.1 L1400.0,440.1 L1402.0,440.2 L1404.0,440.2 L1406.0,440.2 L1408.0,440.2 L1410.0,440.2 L1412.0,440.2 L1414.0,440.2 L1416.0,440.2 L1418.0,440.2 L1420.1,440.2 L1422.1,440.2 L1424.1,440.2 L1426.1,440.2 L1428.1,440.2 L1430.1,440.2 L1432.1,440.1 L1434.1,440.1 L1436.1,440.1 L1438.1,440.1 L1440.1,440.1 L1442.1,440.1 L1444.1,440.1 L1446.1,440.0 L1448.1,440.0 L1450.1,440.0 L1452.1,440.0 L1454.1,440.0 L1456.1,439.9 L1458.1,439.9 L1460.1,439.9 L1462.1,439.9 L1464.1,439.9 L1466.1,439.8 L1468.1,439.8 L1470.1,439.8 L1472.2,439.7 L1474.2,439.7 L1476.2,439.7 L1478.2,439.7 L1480.2,439.6 L1482.2,439.6 L1484.2,439.6 L1486.2,439.5 L1488.2,439.5 L1490.2,439.5 L1492.2,439.4 L1494.2,439.4 L1496.2,439.4 L1498.2,439.3 L1500.2,439.3 L1502.2,439.3 L1504.2,439.3 L1506.2,439.2 L1508.2,439.2 L1510.2,439.2 L1512.2,439.1 L1514.2,439.1 L1516.2,439.1 L1518.2,439.0 L1520.3,439.0 L1522.3,439.0 L1524.3,438.9 L1526.3,438.9 L1528.3,438.9 L1530.3,438.8 L1532.3,438.8 L1534.3,438.8 L1536.3,438.8 L1538.3,438.7 L1540.3,438.7 L1542.3,438.7 L1544.3,438.6 L1546.3,438.6 L1548.3,438.6 L1550.3,438.6 L1552.3,438.6 L1554.3,438.5 L1556.3,438.5 L1558.3,438.5 L1560.3,438.5 L1562.3,438.4 L1564.3,438.4 L1566.3,438.4 L1568.3,438.4 L1570.4,438.4 L1572.4,438.4 L1574.4,438.4 L1576.4,438.3 L1578.4,438.3 L1580.4,438.3 L1582.4,438.3 L1584.4,438.3 L1586.4,438.3 L1588.4,438.3 L1590.4,438.3 L1592.4,438.3 L1594.4,438.3 L1596.4,438.3 L1598.4,438.3 L1600.4,438.3 L1602.4,438.3 L1604.4,438.3 L1606.4,438.3 L1608.4,438.3 L1610.4,438.3 L1612.4,438.4 L1614.4,438.4 L1616.4,438.4 L1618.4,438.4 L1620.4,438.4 L1622.4,438.5 L1624.4,438.5 L1626.5,438.5 L1628.5,438.5 L1630.5,438.6 L1632.5,438.6 L1634.5,438.6 L1636.5,438.7 L1638.5,438.7 L1640.5,438.8 L1642.5,438.8 L1644.5,438.8 L1646.5,438.9 L1648.5,438.9 L1650.5,439.0 L1652.5,439.1 L1654.5,439.1 L1656.5,439.2 L1658.5,439.2 L1660.5,439.3 L1660.5,439.3 L1658.5,439.7 L1656.6,440.1 L1654.6,440.4 L1652.6,440.8 L1650.6,441.1 L1648.7,441.5 L1646.7,441.8 L1644.7,442.1 L1642.7,442.4 L1640.7,442.7 L1638.7,443.0 L1636.8,443.2 L1634.8,443.5 L1632.8,443.8 L1630.8,444.0 L1628.8,444.2 L1626.8,444.5 L1624.8,444.7 L1622.8,444.9 L1620.9,445.1 L1618.9,445.3 L1616.9,445.5 L1614.9,445.7 L1612.9,445.8 L1610.9,446.0 L1608.9,446.2 L1606.9,446.3 L1604.9,446.5 L1602.9,446.6 L1600.9,446.7 L1598.9,446.9 L1596.9,447.0 L1594.9,447.1 L1592.9,447.2 L1590.9,447.3 L1588.9,447.4 L1586.9,447.5 L1584.9,447.6 L1582.9,447.7 L1580.9,447.8 L1578.9,447.9 L1576.9,448.0 L1574.9,448.0 L1572.9,448.1 L1570.9,448.2 L1568.9,448.3 L1566.9,448.3 L1564.9,448.4 L1562.9,448.4 L1560.8,448.5 L1558.8,448.6 L1556.8,448.6 L1554.8,448.7 L1552.8,448.7 L1550.8,448.8 L1548.8,448.8 L1546.8,448.9 L1544.8,448.9 L1542.8,449.0 L1540.8,449.0 L1538.8,449.1 L1536.8,449.1 L1534.8,449.1 L1532.8,449.2 L1530.8,449.2 L1528.8,449.3 L1526.8,449.3 L1524.8,449.3 L1522.8,449.4 L1520.8,449.4 L1518.8,449.5 L1516.8,449.5 L1514.8,449.5 L1512.8,449.6 L1510.8,449.6 L1508.8,449.6 L1506.8,449.7 L1504.8,449.7 L1502.7,449.7 L1500.7,449.7 L1498.7,449.8 L1496.7,449.8 L1494.7,449.8 L1492.7,449.9 L1490.7,449.9 L1488.7,449.9 L1486.7,449.9 L1484.7,450.0 L1482.7,450.0 L1480.7,450.0 L1478.7,450.0 L1476.7,450.0 L1474.7,450.1 L1472.7,450.1 L1470.7,450.1 L1468.7,450.1 L1466.7,450.1 L1464.7,450.2 L1462.7,450.2 L1460.7,450.2 L1458.7,450.2 L1456.7,450.2 L1454.7,450.2 L1452.7,450.2 L1450.7,450.3 L1448.7,450.3 L1446.7,450.3 L1444.7,450.3 L1442.7,450.3 L1440.7,450.3 L1438.7,450.3 L1436.7,450.4 L1434.7,450.4 L1432.7,450.4 L1430.7,450.4 L1428.7,450.4 L1426.7,450.4 L1424.7,450.4 L1422.7,450.4 L1420.7,450.4 L1418.7,450.5 L1416.7,450.5 L1414.6,450.5 L1412.6,450.5 L1410.6,450.5 L1408.6,450.5 L1406.6,450.5 L1404.6,450.5 L1402.6,450.5 L1400.6,450.5 L1398.6,450.6 L1396.6,450.6 L1394.6,450.6 L1392.6,450.6 L1390.6,450.6 L1388.6,450.6 L1386.6,450.6 L1384.6,450.6 L1382.6,450.6 L1380.6,450.6 L1378.6,450.6 L1376.6,450.7 L1374.6,450.7 L1372.6,450.7 L1370.6,450.7 L1368.6,450.7 L1366.6,450.7 L1364.6,450.7 L1362.6,450.7 L1360.6,450.7 L1358.6,450.8 L1356.6,450.8 L1354.6,450.8 L1352.6,450.8 L1350.6,450.8 L1348.5,450.8 L1346.5,450.8 L1344.5,450.8 L1342.5,450.9 L1340.5,450.9 L1338.5,450.9 L1336.5,450.9 L1334.5,450.9 L1332.5,450.9 L1330.5,451.0 L1328.5,451.0 L1326.5,451.0 L1324.5,451.0 L1322.5,451.0 L1320.5,451.0 L1318.5,451.1 L1316.5,451.1 L1314.5,451.1 L1312.5,451.1 L1310.5,451.2 L1308.4,451.2 L1306.4,451.2 L1304.4,451.2 L1302.4,451.2 L1300.4,451.3 L1298.4,451.3 L1296.4,451.3 L1294.4,451.4 L1292.4,451.4 L1290.4,451.4 L1288.4,451.4 L1286.4,451.5 L1284.4,451.5 L1282.4,451.5 L1280.4,451.6 L1278.4,451.6 L1276.3,451.6 L1274.3,451.7 L1272.3,451.7 L1270.3,451.7 L1268.3,451.8 L1266.3,451.8 L1264.3,451.9 L1262.3,451.9 L1260.3,451.9 L1258.3,452.0 L1256.3,452.0 L1254.3,452.1 L1252.3,452.1 L1250.3,452.2 L1248.3,452.2 L1246.3,452.3 L1244.2,452.3 L1242.2,452.4 L1240.2,452.4 L1238.2,452.5 L1236.2,452.5 L1234.2,452.6 L1232.2,452.6 L1230.2,452.7 L1228.2,452.7 L1226.2,452.8 L1224.2,452.9 L1222.2,452.9 L1220.2,453.0 L1218.2,453.0 L1216.2,453.1 L1214.2,453.2 L1212.2,453.2 L1210.2,453.3 L1208.2,453.4 L1206.2,453.5 L1204.2,453.5 L1202.2,453.6 L1200.2,453.7 L1198.2,453.8 L1196.2,453.8 L1194.2,453.9 L1192.2,454.0 L1190.2,454.1 L1188.2,454.2 L1186.2,454.3 L1184.2,454.3 L1182.2,454.4 L1180.2,454.5 L1178.2,454.6 L1176.2,454.7 L1174.2,454.8 L1172.2,454.9 L1170.2,455.0 L1168.2,455.1 L1166.2,455.2 L1164.2,455.3 L1162.2,455.4 L1160.2,455.5 L1158.2,455.6 L1156.2,455.7 L1154.3,455.8 L1152.3,455.9 L1150.3,456.0 L1148.3,456.2 L1146.3,456.3 L1144.3,456.4 L1142.3,456.5 L1140.3,456.7 L1138.3,456.8 L1136.4,457.0 L1134.4,457.1 L1132.4,457.3 L1130.4,457.4 L1128.4,457.6 L1126.4,457.8 L1124.4,457.9 L1122.4,458.1 L1120.5,458.3 L1118.5,458.5 L1116.5,458.8 L1114.5,459.0 L1112.5,459.2 L1110.5,459.5 L1108.5,459.7 L1106.6,460.0 L1104.6,460.3 L1102.6,460.5 L1100.6,460.8 L1098.6,461.2 L1096.6,461.5 L1094.6,461.8 L1092.6,462.2 L1090.7,462.5 L1088.7,462.9 L1086.7,463.3 L1084.7,463.7 L1082.7,464.1 L1080.7,464.6 L1078.8,465.0 L1076.8,465.5 L1074.8,466.0 L1072.9,466.5 L1070.9,467.1 L1068.9,467.6 L1067.0,468.2 L1065.1,468.8 L1063.1,469.4 L1061.2,470.0 L1059.3,470.6 L1057.4,471.3 L1055.5,472.0 L1053.6,472.7 L1051.7,473.4 L1049.9,474.2 L1048.0,475.0 L1046.2,475.8 L1044.4,476.6 L1042.6,477.5 L1040.8,478.3 L1039.0,479.2 L1037.3,480.2 L1035.5,481.1 L1033.8,482.1 L1032.1,483.1 L1030.4,484.2 L1028.7,485.2 L1027.1,486.3 L1025.5,487.5 L1023.9,488.6 L1022.3,489.8 L1020.7,491.0 L1019.2,492.2 L1017.7,493.5 L1016.2,494.8 L1014.7,496.1 L1013.2,497.5 L1011.8,498.8 L1010.4,500.2 L1008.9,501.6 L1007.6,503.1 L1006.2,504.5 L1004.8,506.0 L1003.5,507.5 L1002.2,509.0 L1000.9,510.5 L999.6,512.1 L998.4,513.7 L997.1,515.3 L995.9,516.9 L994.7,518.5 L993.5,520.1 L992.3,521.8 L991.2,523.4 L990.0,525.1 L988.9,526.8 L987.8,528.5 L986.7,530.2 L985.6,531.9 L984.5,533.6 L983.5,535.3 L982.5,537.1 L981.4,538.8 L980.4,540.6 L979.4,542.4 L978.4,544.1 L977.5,545.9 L976.5,547.7 L975.6,549.4 L974.6,551.2 L973.7,553.0 L972.8,554.8 L971.9,556.6 L971.0,558.4 L970.2,560.2 L969.3,562.0 L968.5,563.8 L967.6,565.6 L966.8,567.4 L966.0,569.2 L965.1,571.1 L964.3,572.9 L963.5,574.7 L962.7,576.5 L962.0,578.4 L961.2,580.2 L960.4,582.0 L959.7,583.9 L958.9,585.7 L958.2,587.6 L957.4,589.4 L956.7,591.3 L955.9,593.1 L955.2,595.0 L954.5,596.8 L953.8,598.7 L953.0,600.6 L952.3,602.4 L951.6,604.3 L950.9,606.1 L950.2,608.0 L949.5,609.9 L948.8,611.8 L948.1,613.6 L947.4,615.5 L946.7,617.4 L946.1,619.3 L945.4,621.2 L944.7,623.1 L944.0,624.9 L943.4,626.8 L942.7,628.7 L942.0,630.6 L941.4,632.5 L940.7,634.4 L940.1,636.3 L939.4,638.2 L938.8,640.1 L938.1,642.0 L937.5,643.9 L936.9,645.8 L936.2,647.7 L935.6,649.6 L935.0,651.5 L934.4,653.4 L933.7,655.3 L933.1,657.3 L932.5,659.2 L931.9,661.1 L931.3,663.0 L930.7,664.9 L930.1,666.8 L929.5,668.7 L928.9,670.7 L928.3,672.6 L927.7,674.5 L927.1,676.4 L926.5,678.3 L925.9,680.3 L925.3,682.2 L924.8,684.1 L924.2,686.0 L923.6,687.9 L923.0,689.9 L922.5,691.8 L921.9,693.7 L921.3,695.6 L920.8,697.6 L920.2,699.5 L919.6,701.4 L919.1,703.3 L918.5,705.3 L918.0,707.2 L917.4,709.1 L916.9,711.0 L916.3,713.0 L915.8,714.9 L915.2,716.8 L914.7,718.7 L914.1,720.7 L913.6,722.6 L913.1,724.5 L912.5,726.4 L912.0,728.4 L911.5,730.3 L910.9,732.2 L910.4,734.2 L909.9,736.1 L909.3,738.0 L908.8,739.9 L908.3,741.9 L907.8,743.8 L907.2,745.7 L906.7,747.7 L906.2,749.6 L905.7,751.5 L905.2,753.5 L904.7,755.4 L904.2,757.3 L903.6,759.3 L903.1,761.2 L902.6,763.1 L902.1,765.1 L901.6,767.0 L901.1,768.9 L900.6,770.9 L900.1,772.8 L899.6,774.7 L899.1,776.7 L898.6,778.6 L898.1,780.5 L897.6,782.5 L897.1,784.4 L896.6,786.3 L896.1,788.3 L895.6,790.2 L895.1,792.1 L894.6,794.1 L894.1,796.0 L893.6,798.0 L893.1,799.9 L892.6,801.8 L892.2,803.8 L891.7,805.7 L891.2,807.6 L890.7,809.6 L890.2,811.5 L889.7,813.5 L889.2,815.4 L888.7,817.3 L888.3,819.3 L887.8,821.2 L887.3,823.2 L886.8,825.1 L886.3,827.0 L885.8,829.0 L885.3,830.9 L884.8,832.9 L884.4,834.8 L883.9,836.8 L883.4,838.7 L882.9,840.6 L882.4,842.6 L881.9,844.5 L881.4,846.5 L881.0,848.4 L880.5,850.4 L880.0,852.3 L879.5,854.2 L879.0,856.2 L878.5,858.1 L878.0,860.1 L877.6,862.0 L877.1,864.0 L876.6,865.9 L876.1,867.9 L875.6,869.8 L875.1,871.8 L874.6,873.7 L874.1,875.7 L873.7,877.6 L873.2,879.6 L872.7,881.5 L872.2,883.5 L871.7,885.4 L871.2,887.4 L870.7,889.3 L870.2,891.3 L869.7,893.2 L869.2,895.2 L868.7,897.1 L868.2,899.1 L867.7,901.0 L867.2,903.0 L866.7,904.9 L866.2,906.9 L865.7,908.8 L865.2,910.8 L864.7,912.7 L864.2,914.6 L863.6,916.6 L863.1,918.5 L862.6,920.5 L862.1,922.4 L861.6,924.4 L861.0,926.3 L860.5,928.3 L860.0,930.2 L859.5,932.1 L858.9,934.1 L858.4,936.0 L857.8,938.0 L857.3,939.9 L856.7,941.8 L856.2,943.8 L855.6,945.7 L855.1,947.6 L854.5,949.5 L853.9,951.5 L853.4,953.4 L852.8,955.3 L852.2,957.2 L851.6,959.2 L851.0,961.1 L850.4,963.0 L849.8,964.9 L849.2,966.8 L848.6,968.7 L848.0,970.6 L847.4,972.5 L846.8,974.4 L846.1,976.3 L845.5,978.2 L844.9,980.1 L844.2,982.0 L843.6,983.9 L842.9,985.8 L842.3,987.7 L841.6,989.6 L840.9,991.4 L840.2,993.3 L839.6,995.2 L838.9,997.0 L838.2,998.9 L837.5,1000.8 L836.8,1002.6 L836.0,1004.5 L835.3,1006.3 L834.6,1008.2 L833.9,1010.0 L833.1,1011.9 L832.4,1013.7 L831.6,1015.5 L830.8,1017.4 L830.0,1019.2 L829.3,1021.0 L828.5,1022.8 L827.6,1024.6 L826.8,1026.4 L826.0,1028.2 L825.1,1030.0 L824.2,1031.8 L823.3,1033.6 L822.4,1035.4 L821.5,1037.2 L820.5,1038.9 L819.5,1040.7 L818.5,1042.4 L817.5,1044.2 L816.4,1045.9 L815.3,1047.7 L814.2,1049.4 L813.0,1051.1 L811.9,1052.8 L810.6,1054.5 L809.4,1056.1 L808.0,1057.6 L806.6,1059.0 L805.2,1060.4 L803.6,1061.6 L802.0,1062.7 L800.2,1063.6 L798.4,1064.3 L796.6,1064.8 L794.7,1065.2 L792.7,1065.2 L790.8,1065.0 L788.9,1064.6 L787.1,1063.9 L785.3,1063.1 L783.5,1062.1 L781.7,1061.0 L780.1,1059.8 L778.5,1058.5 L777.0,1057.1 L775.5,1055.7 L774.2,1054.2 L772.9,1052.7 L771.6,1051.2 L770.4,1049.6 L769.2,1047.9 L768.1,1046.3 L767.0,1044.6 L766.0,1042.9 L765.0,1041.1 L763.9,1039.4 L763.0,1037.6 L762.0,1035.9 L761.0,1034.1 L760.0,1032.4 L759.0,1030.6 L758.1,1028.8 L757.1,1027.1 L756.1,1025.3 L755.2,1023.5 L754.2,1021.8 L753.2,1020.0 L752.3,1018.3 L751.3,1016.5 L750.4,1014.7 L749.4,1013.0 L748.5,1011.2 L747.5,1009.5 L746.5,1007.7 L745.6,1005.9 L744.6,1004.2 L743.7,1002.4 L742.7,1000.7 L741.8,998.9 L740.8,997.2 L739.9,995.4 L738.9,993.7 L737.9,991.9 L737.0,990.1 L736.0,988.4 L735.1,986.6 L734.1,984.9 L733.1,983.1 L732.2,981.4 L731.2,979.6 L730.2,977.9 L729.2,976.2 L728.2,974.4 L727.3,972.7 L726.3,970.9 L725.3,969.2 L724.3,967.5 L723.3,965.7 L722.3,964.0 L721.2,962.3 L720.2,960.6 L719.2,958.8 L718.2,957.1 L717.1,955.4 L716.1,953.7 L715.1,952.0 L714.0,950.3 L713.0,948.6 L711.9,946.9 L710.8,945.2 L709.7,943.6 L708.6,941.9 L707.6,940.2 L706.5,938.5 L705.3,936.9 L704.2,935.2 L703.1,933.6 L702.0,931.9 L700.8,930.3 L699.7,928.7 L698.5,927.0 L697.3,925.4 L696.2,923.8 L695.0,922.2 L693.8,920.6 L692.5,919.0 L691.3,917.4 L690.1,915.8 L688.8,914.3 L687.6,912.7 L686.3,911.1 L685.1,909.6 L683.8,908.1 L682.5,906.5 L681.1,905.0 L679.8,903.5 L678.5,902.0 L677.1,900.5 L675.8,899.0 L674.4,897.5 L673.0,896.0 L671.6,894.6 L670.2,893.1 L668.8,891.7 L667.3,890.3 L665.9,888.9 L664.4,887.5 L662.9,886.1 L661.5,884.7 L660.0,883.4 L658.4,882.1 L656.9,880.7 L655.4,879.4 L653.8,878.2 L652.3,876.9 L650.7,875.6 L649.1,874.4 L647.5,873.2 L645.9,872.0 L644.3,870.8 L642.7,869.7 L641.0,868.5 L639.4,867.4 L637.7,866.3 L636.0,865.3 L634.3,864.2 L632.6,863.2 L630.9,862.2 L629.2,861.2 L627.4,860.3 L625.7,859.3 L623.9,858.4 L622.1,857.5 L620.4,856.7 L618.6,855.8 L616.8,855.0 L614.9,854.2 L613.1,853.4 L611.3,852.7 L609.4,852.0 L607.6,851.2 L605.7,850.6 L603.9,849.9 L602.0,849.2 L600.1,848.6 L598.2,848.0 L596.3,847.4 L594.4,846.8 L592.5,846.2 L590.6,845.6 L588.6,845.1 L586.7,844.6 L584.8,844.1 L582.8,843.6 L580.9,843.1 L578.9,842.6 L576.9,842.2 L575.0,841.8 L573.0,841.3 L571.0,840.9 L569.1,840.5 L567.1,840.1 L565.1,839.8 L563.1,839.4 L561.1,839.0 L559.1,838.7 L557.1,838.4 L555.1,838.0 L553.1,837.7 L551.1,837.4 L549.1,837.1 L547.1,836.8 L545.1,836.5 L543.1,836.3 L541.1,836.0 L539.1,835.7 L537.1,835.5 L535.1,835.2 L533.1,835.0 L531.1,834.7 L529.1,834.5 L527.1,834.2 L525.1,834.0 L523.1,833.8 L521.2,833.6 L519.2,833.3 L517.2,833.1 L515.2,832.9 L513.2,832.7 L511.2,832.5 L509.2,832.3 L507.2,832.1 L505.3,831.9 L503.3,831.7 L501.3,831.6 L499.3,831.4 L497.3,831.2 L495.3,831.0 L493.4,830.9 L491.4,830.7 L489.4,830.5 L487.4,830.4 L485.4,830.2 L483.5,830.1 L481.5,829.9 L479.5,829.8 L477.5,829.6 L475.5,829.5 L473.6,829.4 L471.6,829.2 L469.6,829.1 L467.6,829.0 L465.6,828.9 L463.6,828.7 L461.7,828.6 L459.7,828.5 L457.7,828.4 L455.7,828.3 L453.7,828.2 L451.7,828.1 L449.7,828.0 L447.8,827.9 L445.8,827.8 L443.8,827.7 L441.8,827.7 L439.8,827.6 L437.8,827.5 L435.8,827.4 L433.8,827.4 L431.8,827.3 L429.8,827.2 L427.8,827.2 L425.8,827.1 L423.7,827.0 L421.7,827.0 L419.7,826.9 L417.7,826.9 L415.7,826.8 L413.7,826.8 L411.6,826.7 L409.6,826.7 L407.6,826.7 L405.6,826.6 L403.5,826.6 L401.5,826.6 L399.4,826.5 L397.4,826.5"/>
<path stroke="#0000ff" d="M397.4,819.0 L399.4,818.7 L401.3,818.5 L403.3,818.3 L405.3,818.1 L407.3,817.9 L409.2,817.7 L411.2,817.5 L413.2,817.4 L415.2,817.2 L417.2,817.1 L419.2,817.0 L421.2,816.9 L423.2,816.9 L425.2,816.8 L427.2,816.7 L429.2,816.7 L431.2,816.6 L433.2,816.6 L435.2,816.6 L437.2,816.6 L439.2,816.6 L441.2,816.6 L443.3,816.6 L445.3,816.6 L447.3,816.6 L449.3,816.6 L451.3,816.6 L453.3,816.6 L455.4,816.6 L457.4,816.6 L459.4,816.6 L461.4,816.7 L463.4,816.7 L465.4,816.7 L467.5,816.7 L469.5,816.7 L471.5,816.7 L473.5,816.7 L475.5,816.7 L477.5,816.6 L479.6,816.6 L481.6,816.6 L483.6,816.5 L485.6,816.5 L487.6,816.4 L489.6,816.3 L491.6,816.2 L493.6,816.1 L495.6,816.0 L497.6,815.9 L499.6,815.7 L501.6,815.6 L503.6,815.4 L505.6,815.2 L507.6,815.0 L509.6,814.8 L511.6,814.6 L513.6,814.3 L515.5,814.0 L517.5,813.8 L519.5,813.5 L521.5,813.2 L523.4,812.8 L525.4,812.5 L527.4,812.2 L529.4,811.8 L531.3,811.5 L533.3,811.1 L535.3,810.8 L537.2,810.4 L539.2,810.0 L541.2,809.6 L543.1,809.2 L545.1,808.8 L547.1,808.4 L549.0,808.0 L551.0,807.6 L553.0,807.2 L554.9,806.8 L556.9,806.4 L558.8,806.0 L560.8,805.6 L562.8,805.2 L564.7,804.8 L566.7,804.4 L568.7,804.0 L570.6,803.6 L572.6,803.2 L574.5,802.7 L576.5,802.3 L578.5,801.9 L580.4,801.5 L582.4,801.0 L584.3,800.5 L586.2,800.1 L588.2,799.6 L590.1,799.1 L592.0,798.5 L594.0,798.0 L595.9,797.4 L597.8,796.8 L599.7,796.2 L601.6,795.6 L603.5,794.9 L605.4,794.3 L607.3,793.6 L609.2,793.0 L611.1,792.4 L613.1,791.8 L615.0,791.3 L616.9,790.8 L618.9,790.3 L620.8,789.8 L622.7,789.3 L624.6,788.7 L626.5,788.1 L628.4,787.4 L630.2,786.6 L632.0,785.8 L633.9,784.9 L635.7,784.1 L637.5,783.2 L639.3,782.4 L641.1,781.5 L643.0,780.7 L644.8,779.9 L646.7,779.2 L648.6,778.4 L650.4,777.8 L652.3,777.1 L654.2,776.5 L656.2,775.9 L658.1,775.4 L660.0,774.9 L662.0,774.4 L663.9,773.9 L665.9,773.5 L667.8,773.1 L669.8,772.7 L671.8,772.4 L673.7,772.0 L675.7,771.7 L677.7,771.4 L679.7,771.1 L681.7,770.8 L683.7,770.6 L685.7,770.3 L687.7,770.0 L689.6,769.7 L691.6,769.4 L693.6,769.0 L695.6,768.7 L697.5,768.3 L699.5,767.9 L701.4,767.4 L703.3,766.9 L705.3,766.3 L707.1,765.7 L709.0,765.0 L710.9,764.2 L712.7,763.4 L714.5,762.5 L716.3,761.6 L718.0,760.6 L719.8,759.7 L721.5,758.7 L723.3,757.7 L725.1,756.8 L726.8,755.9 L728.6,754.9 L730.3,753.9 L732.0,753.0 L733.8,752.0 L735.4,750.9 L737.1,749.8 L738.8,748.7 L740.4,747.5 L742.0,746.3 L743.5,745.0 L745.0,743.7 L746.5,742.3 L748.0,740.9 L749.5,739.5 L750.9,738.1 L752.3,736.6 L753.6,735.2 L755.0,733.7 L756.3,732.2 L757.6,730.6 L758.9,729.1 L760.1,727.5 L761.4,726.0 L762.6,724.4 L763.7,722.8 L764.9,721.1 L766.1,719.5 L767.2,717.8 L768.3,716.2 L769.4,714.5 L770.5,712.8 L771.5,711.1 L772.6,709.4 L773.6,707.7 L774.6,706.0 L775.6,704.2 L776.6,702.5 L777.6,700.7 L778.5,699.0 L779.5,697.2 L780.4,695.5 L781.3,693.7 L782.2,691.9 L783.1,690.1 L784.0,688.3 L784.9,686.5 L785.8,684.7 L786.6,682.9 L787.5,681.1 L788.3,679.2 L789.2,677.4 L790.0,675.6 L790.8,673.7 L791.6,671.9 L792.4,670.1 L793.2,668.2 L794.0,666.4 L794.8,664.5 L795.6,662.7 L796.3,660.8 L797.1,659.0 L797.9,657.1 L798.6,655.3 L799.4,653.4 L800.1,651.6 L800.9,649.7 L801.6,647.8 L802.3,646.0 L803.1,644.1 L803.8,642.2 L804.5,640.4 L805.2,638.5 L805.9,636.6 L806.6,634.8 L807.3,632.9 L808.0,631.0 L808.7,629.1 L809.4,627.2 L810.1,625.4 L810.7,623.5 L811.4,621.6 L812.1,619.7 L812.8,617.8 L813.4,615.9 L814.1,614.0 L814.7,612.2 L815.4,610.3 L816.0,608.4 L816.7,606.5 L817.3,604.6 L818.0,602.7 L818.6,600.8 L819.2,598.9 L819.9,597.0 L820.5,595.1 L821.1,593.2 L821.7,591.3 L822.4,589.4 L823.0,587.5 L823.6,585.6 L824.2,583.7 L824.8,581.8 L825.4,579.9 L826.0,577.9 L826.6,576.0 L827.2,574.1 L827.8,572.2 L828.4,570.3 L829.0,568.4 L829.6,566.5 L830.2,564.6 L830.8,562.7 L831.4,560.7 L832.0,558.8 L832.6,556.9 L833.2,555.0 L833.8,553.1 L834.4,551.2 L834.9,549.3 L835.5,547.3 L836.1,545.4 L836.7,543.5 L837.3,541.6 L837.8,539.7 L838.4,537.7 L839.0,535.8 L839.6,533.9 L840.1,532.0 L840.7,530.1 L841.3,528.1 L841.8,526.2 L842.4,524.3 L843.0,522.4 L843.5,520.4 L844.1,518.5 L844.7,516.6 L845.2,514.7 L845.8,512.7 L846.3,510.8 L846.9,508.9 L847.5,507.0 L848.0,505.0 L848.6,503.1 L849.1,501.2 L849.7,499.3 L850.2,497.3 L850.8,495.4 L851.3,493.5 L851.9,491.5 L852.4,489.6 L853.0,487.7 L853.5,485.8 L854.0,483.8 L854.6,481.9 L855.1,480.0 L855.7,478.0 L856.2,476.1 L856.7,474.2 L857.3,472.2 L857.8,470.3 L858.4,468.4 L858.9,466.4 L859.4,464.5 L860.0,462.6 L860.5,460.6 L861.0,458.7 L861.6,456.8 L862.1,454.8 L862.6,452.9 L863.2,451.0 L863.7,449.0 L864.2,447.1 L864.7,445.2 L865.3,443.2 L865.8,441.3 L866.3,439.4 L866.9,437.4 L867.4,435.5 L867.9,433.6 L868.4,431.6 L869.0,429.7 L869.5,427.8 L870.0,425.8 L870.5,423.9 L871.1,422.0 L871.6,420.0 L872.1,418.1 L872.6,416.2 L873.2,414.2 L873.7,412.3 L874.2,410.4 L874.7,408.4 L875.3,406.5 L875.8,404.6 L876.3,402.6 L876.8,400.7 L877.4,398.8 L877.9,396.8 L878.4,394.9 L878.9,393.0 L879.5,391.0 L880.0,389.1 L880.5,387.2 L881.1,385.3 L881.6,383.3 L882.1,381.4 L882.7,379.5 L883.2,377.5 L883.7,375.6 L884.3,373.7 L884.8,371.7 L885.4,369.8 L885.9,367.9 L886.4,366.0 L887.0,364.0 L887.5,362.1 L888.1,360.2 L888.6,358.2 L889.2,356.3 L889.7,354.4 L890.3,352.5 L890.8,350.5 L891.4,348.6 L891.9,346.7 L892.5,344.8 L893.0,342.9 L893.6,340.9 L894.2,339.0 L894.7,337.1 L895.3,335.2 L895.9,333.2 L896.4,331.3 L897.0,329.4 L897.6,327.5 L898.1,325.6 L898.7,323.6 L899.3,321.7 L899.9,319.8 L900.5,317.9 L901.0,316.0 L901.6,314.1 L902.2,312.2 L902.8,310.2 L903.4,308.3 L904.0,306.4 L904.6,304.5 L905.2,302.6 L905.8,300.7 L906.4,298.8 L907.0,296.9 L907.7,295.0 L908.3,293.1 L908.9,291.2 L909.5,289.3 L910.2,287.3 L910.8,285.4 L911.4,283.6 L912.1,281.7 L912.7,279.8 L913.4,277.9 L914.0,276.0 L914.7,274.1 L915.4,272.2 L916.1,270.3 L916.8,268.5 L917.5,266.6 L918.2,264.7 L918.9,262.8 L919.6,261.0 L920.4,259.1 L921.1,257.3 L921.9,255.4 L922.6,253.6 L923.4,251.7 L924.2,249.9 L925.0,248.0 L925.8,246.2 L926.6,244.4 L927.5,242.6 L928.3,240.7 L929.2,238.9 L930.0,237.1 L930.9,235.3 L931.8,233.5 L932.7,231.8 L933.6,230.0 L934.6,228.2 L935.5,226.4 L936.5,224.7 L937.5,222.9 L938.5,221.2 L939.5,219.4 L940.6,217.7 L941.6,216.0 L942.7,214.3 L943.8,212.6 L944.9,210.9 L946.1,209.2 L947.3,207.7 L948.6,206.2 L950.0,204.8 L951.4,203.4 L953.0,202.2 L954.6,201.2 L956.4,200.3 L958.3,199.5 L960.3,198.9 L962.3,198.5 L964.3,198.2 L966.4,198.2 L968.4,198.3 L970.4,198.6 L972.3,199.1 L974.2,199.8 L976.0,200.6 L977.7,201.6 L979.4,202.7 L981.0,203.9 L982.5,205.2 L984.0,206.6 L985.4,208.0 L986.7,209.5 L988.1,211.0 L989.4,212.5 L990.6,214.1 L991.9,215.7 L993.1,217.3 L994.4,218.9 L995.6,220.5 L996.8,222.1 L997.9,223.7 L999.1,225.3 L1000.2,227.0 L1001.4,228.6 L1002.5,230.3 L1003.6,231.9 L1004.7,233.6 L1005.9,235.3 L1006.9,237.0 L1008.0,238.7 L1009.1,240.3 L1010.2,242.0 L1011.3,243.7 L1012.3,245.4 L1013.4,247.1 L1014.4,248.8 L1015.5,250.5 L1016.6,252.2 L1017.6,253.9 L1018.7,255.6 L1019.7,257.3 L1020.8,259.0 L1021.9,260.7 L1022.9,262.4 L1024.0,264.1 L1025.1,265.8 L1026.2,267.5 L1027.3,269.2 L1028.4,270.8 L1029.5,272.5 L1030.6,274.2 L1031.7,275.8 L1032.8,277.5 L1034.0,279.1 L1035.1,280.7 L1036.3,282.4 L1037.5,284.0 L1038.7,285.6 L1039.9,287.2 L1041.1,288.8 L1042.3,290.4 L1043.5,292.0 L1044.8,293.5 L1046.0,295.1 L1047.3,296.6 L1048.6,298.2 L1049.9,299.7 L1051.2,301.2 L1052.5,302.7 L1053.8,304.2 L1055.1,305.7 L1056.5,307.2 L1057.9,308.6 L1059.2,310.1 L1060.6,311.5 L1062.0,313.0 L1063.4,314.4 L1064.8,315.8 L1066.3,317.2 L1067.7,318.6 L1069.2,319.9 L1070.6,321.3 L1072.1,322.6 L1073.6,323.9 L1075.1,325.2 L1076.7,326.5 L1078.2,327.8 L1079.8,329.1 L1081.3,330.3 L1082.9,331.6 L1084.5,332.8 L1086.1,334.0 L1087.7,335.2 L1089.3,336.4 L1091.0,337.5 L1092.7,338.7 L1094.3,339.8 L1096.0,340.9 L1097.7,342.0 L1099.4,343.1 L1101.1,344.1 L1102.9,345.2 L1104.6,346.2 L1106.4,347.2 L1108.2,348.2 L1109.9,349.1 L1111.7,350.1 L1113.5,351.0 L1115.3,351.9 L1117.2,352.8 L1119.0,353.6 L1120.8,354.4 L1122.7,355.3 L1124.5,356.0 L1126.4,356.8 L1128.3,357.5 L1130.1,358.3 L1132.0,358.9 L1133.9,359.6 L1135.8,360.3 L1137.7,360.9 L1139.6,361.5 L1141.5,362.1 L1143.4,362.7 L1145.3,363.2 L1147.3,363.8 L1149.2,364.3 L1151.1,364.8 L1153.0,365.4 L1155.0,365.9 L1156.9,366.3 L1158.8,366.8 L1160.8,367.3 L1162.7,367.8 L1164.7,368.2 L1166.6,368.7 L1168.6,369.1 L1170.5,369.5 L1172.4,369.9 L1174.4,370.3 L1176.4,370.7 L1178.3,371.1 L1180.3,371.5 L1182.2,371.9 L1184.2,372.2 L1186.1,372.6 L1188.1,372.9 L1190.1,373.3 L1192.0,373.6 L1194.0,373.9 L1196.0,374.2 L1197.9,374.5 L1199.9,374.8 L1201.9,375.1 L1203.9,375.4 L1205.8,375.7 L1207.8,375.9 L1209.8,376.2 L1211.8,376.5 L1213.8,376.7 L1215.7,377.0 L1217.7,377.2 L1219.7,377.4 L1221.7,377.6 L1223.7,377.9 L1225.7,378.1 L1227.7,378.3 L1229.6,378.5 L1231.6,378.7 L1233.6,378.8 L1235.6,379.0 L1237.6,379.2 L1239.6,379.4 L1241.6,379.5 L1243.6,379.7 L1245.6,379.9 L1247.6,380.0 L1249.6,380.2 L1251.6,380.3 L1253.6,380.4 L1255.6,380.6 L1257.6,380.7 L1259.6,380.8 L1261.6,380.9 L1263.6,381.0 L1265.6,381.2 L1267.6,381.3 L1269.6,381.4 L1271.6,381.5 L1273.7,381.6 L1275.7,381.7 L1277.7,381.8 L1279.7,381.8 L1281.7,381.9 L1283.7,382.0 L1285.7,382.1 L1287.7,382.2 L1289.7,382.2 L1291.7,382.3 L1293.7,382.4 L1295.8,382.5 L1297.8,382.5 L1299.8,382.6 L1301.8,382.7 L1303.8,382.7 L1305.8,382.8 L1307.8,382.8 L1309.8,382.9 L1311.9,383.0 L1313.9,383.0 L1315.9,383.1 L1317.9,383.1 L1319.9,383.2 L1321.9,383.2 L1323.9,383.3 L1325.9,383.3 L1327.9,383.4 L1330.0,383.4 L1332.0,383.5 L1334.0,383.5 L1336.0,383.6 L1338.0,383.6 L1340.0,383.7 L1342.0,383.7 L1344.0,383.8 L1346.0,383.8 L1348.0,383.9 L1350.0,383.9 L1352.1,384.0 L1354.1,384.0 L1356.1,384.1 L1358.1,384.1 L1360.1,384.2 L1362.1,384.2 L1364.1,384.3 L1366.1,384.3 L1368.1,384.4 L1370.1,384.4 L1372.1,384.5 L1374.1,384.5 L1376.1,384.6 L1378.1,384.6 L1380.1,384.7 L1382.2,384.7 L1384.2,384.8 L1386.2,384.8 L1388.2,384.9 L1390.2,384.9 L1392.2,385.0 L1394.2,385.0 L1396.2,385.1 L1398.2,385.1 L1400.2,385.2 L1402.2,385.2 L1404.2,385.3 L1406.2,385.3 L1408.2,385.4 L1410.2,385.4 L1412.2,385.5 L1414.2,385.5 L1416.2,385.6 L1418.2,385.6 L1420.2,385.7 L1422.2,385.7 L1424.2,385.7 L1426.2,385.8 L1428.2,385.8 L1430.2,385.9 L1432.2,385.9 L1434.2,386.0 L1436.2,386.0 L1438.2,386.1 L1440.2,386.1 L1442.2,386.2 L1444.2,386.2 L1446.2,386.3 L1448.2,386.3 L1450.2,386.4 L1452.2,386.4 L1454.2,386.4 L1456.2,386.5 L1458.2,386.5 L1460.2,386.6 L1462.2,386.6 L1464.2,386.7 L1466.2,386.7 L1468.2,386.8 L1470.2,386.8 L1472.2,386.8 L1474.2,386.9 L1476.2,386.9 L1478.2,387.0 L1480.2,387.0 L1482.2,387.1 L1484.2,387.1 L1486.2,387.2 L1488.2,387.2 L1490.2,387.2 L1492.2,387.3 L1494.2,387.3 L1496.2,387.4 L1498.2,387.4 L1500.2,387.4 L1502.2,387.5 L1504.2,387.5 L1506.2,387.6 L1508.2,387.6 L1510.2,387.7 L1512.2,387.7 L1514.2,387.7 L1516.2,387.8 L1518.2,387.8 L1520.2,387.9 L1522.2,387.9 L1524.2,387.9 L1526.2,388.0 L1528.2,388.0 L1530.2,388.0 L1532.2,388.1 L1534.2,388.1 L1536.2,388.2 L1538.2,388.2 L1540.2,388.2 L1542.2,388.3 L1544.2,388.3 L1546.2,388.3 L1548.2,388.4 L1550.2,388.4 L1552.2,388.5 L1554.2,388.5 L1556.2,388.5 L1558.2,388.6 L1560.2,388.6 L1562.2,388.6 L1564.2,388.7 L1566.2,388.7 L1568.2,388.7 L1570.2,388.8 L1572.3,388.8 L1574.3,388.8 L1576.3,388.9 L1578.3,388.9 L1580.3,388.9 L1582.3,389.0 L1584.3,389.0 L1586.3,389.0 L1588.3,389.1 L1590.3,389.1 L1592.3,389.1 L1594.3,389.2 L1596.3,389.2 L1598.3,389.2 L1600.3,389.2 L1602.3,389.3 L1604.3,389.3 L1606.3,389.3 L1608.3,389.4 L1610.3,389.4 L1612.3,389.4 L1614.3,389.4 L1616.3,389.5 L1618.3,389.5 L1620.3,389.5 L1622.3,389.6 L1624.4,389.6 L1626.4,389.6 L1628.4,389.6 L1630.4,389.7 L1632.4,389.7 L1634.4,389.7 L1636.4,389.7 L1638.4,389.8 L1640.4,389.8 L1642.4,389.8 L1644.4,389.8 L1646.4,389.9 L1648.4,389.9 L1650.5,389.9 L1652.5,389.9 L1654.5,389.9 L1656.5,390.0 L1658.5,390.0 L1660.5,390.0 L1660.5,390.0 L1658.5,390.3 L1656.5,390.7 L1654.6,391.0 L1652.6,391.3 L1650.6,391.6 L1648.6,391.9 L1646.6,392.2 L1644.6,392.5 L1642.7,392.8 L1640.7,393.1 L1638.7,393.4 L1636.7,393.7 L1634.7,393.9 L1632.7,394.2 L1630.7,394.4 L1628.8,394.7 L1626.8,394.9 L1624.8,395.2 L1622.8,395.4 L1620.8,395.6 L1618.8,395.8 L1616.8,396.1 L1614.8,396.3 L1612.8,396.5 L1610.8,396.7 L1608.9,396.9 L1606.9,397.1 L1604.9,397.2 L1602.9,397.4 L1600.9,397.6 L1598.9,397.8 L1596.9,397.9 L1594.9,398.1 L1592.9,398.3 L1590.9,398.4 L1588.9,398.6 L1586.9,398.7 L1584.9,398.9 L1582.9,399.0 L1580.9,399.1 L1578.9,399.3 L1576.9,399.4 L1574.9,399.5 L1572.9,399.6 L1570.9,399.7 L1568.9,399.9 L1566.9,400.0 L1564.9,400.1 L1562.9,400.2 L1560.9,400.3 L1558.9,400.4 L1556.9,400.5 L1554.9,400.6 L1552.9,400.7 L1550.9,400.7 L1548.9,400.8 L1546.9,400.9 L1544.9,401.0 L1542.9,401.1 L1540.9,401.1 L1538.9,401.2 L1536.9,401.3 L1534.9,401.3 L1532.9,401.4 L1530.9,401.5 L1528.9,401.5 L1526.9,401.6 L1524.9,401.7 L1522.9,401.7 L1520.9,401.8 L1518.9,401.8 L1516.9,401.9 L1514.8,401.9 L1512.8,402.0 L1510.8,402.0 L1508.8,402.1 L1506.8,402.1 L1504.8,402.2 L1502.8,402.2 L1500.8,402.3 L1498.8,402.3 L1496.8,402.3 L1494.8,402.4 L1492.8,402.4 L1490.8,402.5 L1488.8,402.5 L1486.8,402.6 L1484.8,402.6 L1482.8,402.6 L1480.8,402.7 L1478.7,402.7 L1476.7,402.8 L1474.7,402.8 L1472.7,402.9 L1470.7,402.9 L1468.7,402.9 L1466.7,403.0 L1464.7,403.0 L1462.7,403.1 L1460.7,403.1 L1458.7,403.2 L1456.7,403.2 L1454.7,403.3 L1452.7,403.3 L1450.7,403.3 L1448.7,403.4 L1446.7,403.4 L1444.7,403.5 L1442.7,403.5 L1440.6,403.6 L1438.6,403.6 L1436.6,403.7 L1434.6,403.7 L1432.6,403.7 L1430.6,403.8 L1428.6,403.8 L1426.6,403.9 L1424.6,403.9 L1422.6,404.0 L1420.6,404.0 L1418.6,404.1 L1416.6,404.1 L1414.6,404.2 L1412.6,404.2 L1410.6,404.3 L1408.6,404.3 L1406.6,404.4 L1404.6,404.4 L1402.6,404.4 L1400.6,404.5 L1398.5,404.5 L1396.5,404.6 L1394.5,404.6 L1392.5,404.7 L1390.5,404.7 L1388.5,404.8 L1386.5,404.8 L1384.5,404.9 L1382.5,404.9 L1380.5,405.0 L1378.5,405.0 L1376.5,405.1 L1374.5,405.1 L1372.5,405.2 L1370.5,405.2 L1368.5,405.3 L1366.5,405.3 L1364.5,405.4 L1362.5,405.4 L1360.5,405.5 L1358.5,405.5 L1356.5,405.6 L1354.5,405.6 L1352.5,405.7 L1350.5,405.7 L1348.4,405.8 L1346.4,405.8 L1344.4,405.9 L1342.4,405.9 L1340.4,406.0 L1338.4,406.0 L1336.4,406.1 L1334.4,406.1 L1332.4,406.2 L1330.4,406.2 L1328.4,406.3 L1326.4,406.3 L1324.4,406.4 L1322.4,406.4 L1320.4,406.5 L1318.4,406.5 L1316.4,406.6 L1314.4,406.6 L1312.4,406.7 L1310.4,406.7 L1308.4,406.8 L1306.4,406.8 L1304.4,406.9 L1302.4,406.9 L1300.4,407.0 L1298.4,407.0 L1296.4,407.1 L1294.3,407.1 L1292.3,407.2 L1290.3,407.2 L1288.3,407.3 L1286.3,407.3 L1284.3,407.4 L1282.3,407.4 L1280.3,407.5 L1278.3,407.5 L1276.3,407.6 L1274.3,407.6 L1272.3,407.7 L1270.3,407.7 L1268.3,407.8 L1266.3,407.9 L1264.3,407.9 L1262.3,408.0 L1260.3,408.0 L1258.3,408.1 L1256.3,408.1 L1254.3,408.2 L1252.3,408.2 L1250.3,408.3 L1248.3,408.3 L1246.3,408.4 L1244.3,408.4 L1242.3,408.5 L1240.3,408.5 L1238.3,408.6 L1236.3,408.6 L1234.3,408.7 L1232.2,408.7 L1230.2,408.8 L1228.2,408.8 L1226.2,408.9 L1224.2,408.9 L1222.2,409.0 L1220.2,409.0 L1218.2,409.1 L1216.2,409.1 L1214.2,409.2 L1212.2,409.2 L1210.2,409.3 L1208.2,409.4 L1206.2,409.4 L1204.2,409.5 L1202.2,409.5 L1200.2,409.6 L1198.2,409.7 L1196.2,409.7 L1194.2,409.8 L1192.2,409.9 L1190.2,409.9 L1188.2,410.0 L1186.2,410.1 L1184.2,410.1 L1182.2,410.2 L1180.2,410.3 L1178.2,410.4 L1176.2,410.5 L1174.2,410.6 L1172.2,410.7 L1170.2,410.8 L1168.2,410.9 L1166.2,411.0 L1164.2,411.1 L1162.2,411.2 L1160.2,411.3 L1158.2,411.4 L1156.2,411.5 L1154.2,411.6 L1152.2,411.8 L1150.2,411.9 L1148.2,412.0 L1146.2,412.2 L1144.2,412.3 L1142.2,412.4 L1140.2,412.6 L1138.2,412.8 L1136.2,412.9 L1134.2,413.1 L1132.2,413.3 L1130.2,413.4 L1128.2,413.6 L1126.2,413.8 L1124.2,414.0 L1122.2,414.2 L1120.2,414.4 L1118.2,414.6 L1116.2,414.8 L1114.2,415.0 L1112.2,415.2 L1110.2,415.5 L1108.2,415.7 L1106.2,416.0 L1104.2,416.2 L1102.2,416.5 L1100.3,416.7 L1098.3,417.0 L1096.3,417.3 L1094.3,417.6 L1092.3,417.8 L1090.3,418.1 L1088.3,418.4 L1086.3,418.8 L1084.3,419.1 L1082.3,419.4 L1080.4,419.8 L1078.4,420.2 L1076.4,420.6 L1074.4,421.0 L1072.5,421.4 L1070.6,421.9 L1068.6,422.4 L1066.7,423.0 L1064.8,423.5 L1062.9,424.2 L1061.0,424.8 L1059.1,425.5 L1057.3,426.2 L1055.4,427.0 L1053.6,427.8 L1051.8,428.7 L1050.0,429.6 L1048.2,430.5 L1046.4,431.5 L1044.7,432.5 L1043.0,433.5 L1041.3,434.6 L1039.6,435.7 L1037.9,436.8 L1036.2,438.0 L1034.6,439.1 L1033.0,440.3 L1031.4,441.6 L1029.8,442.8 L1028.3,444.1 L1026.7,445.4 L1025.2,446.7 L1023.7,448.0 L1022.2,449.3 L1020.8,450.7 L1019.3,452.1 L1017.9,453.5 L1016.5,454.9 L1015.1,456.3 L1013.7,457.7 L1012.4,459.2 L1011.0,460.7 L1009.7,462.1 L1008.4,463.6 L1007.1,465.2 L1005.9,466.7 L1004.6,468.2 L1003.4,469.8 L1002.2,471.4 L1000.9,472.9 L999.8,474.5 L998.6,476.1 L997.4,477.7 L996.3,479.4 L995.1,481.0 L994.0,482.7 L992.9,484.3 L991.8,486.0 L990.7,487.7 L989.7,489.4 L988.6,491.1 L987.6,492.8 L986.6,494.5 L985.5,496.2 L984.5,498.0 L983.5,499.7 L982.6,501.5 L981.6,503.2 L980.6,505.0 L979.7,506.8 L978.7,508.6 L977.8,510.4 L976.9,512.2 L976.0,514.0 L975.1,515.8 L974.2,517.6 L973.3,519.4 L972.4,521.2 L971.6,523.0 L970.7,524.9 L969.8,526.7 L969.0,528.5 L968.2,530.4 L967.3,532.2 L966.5,534.1 L965.7,535.9 L964.9,537.8 L964.1,539.6 L963.3,541.5 L962.5,543.4 L961.7,545.2 L960.9,547.1 L960.1,548.9 L959.3,550.8 L958.6,552.7 L957.8,554.5 L957.0,556.4 L956.3,558.2 L955.5,560.1 L954.8,562.0 L954.0,563.8 L953.3,565.7 L952.6,567.6 L951.8,569.4 L951.1,571.3 L950.4,573.2 L949.7,575.0 L949.0,576.9 L948.3,578.8 L947.6,580.6 L946.9,582.5 L946.2,584.4 L945.5,586.3 L944.8,588.1 L944.1,590.0 L943.4,591.9 L942.7,593.8 L942.1,595.7 L941.4,597.5 L940.7,599.4 L940.1,601.3 L939.4,603.2 L938.7,605.1 L938.1,607.0 L937.5,608.8 L936.8,610.7 L936.2,612.6 L935.5,614.5 L934.9,616.4 L934.3,618.3 L933.6,620.2 L933.0,622.1 L932.4,624.0 L931.8,625.9 L931.2,627.8 L930.5,629.7 L929.9,631.6 L929.3,633.5 L928.7,635.4 L928.1,637.3 L927.5,639.2 L926.9,641.1 L926.4,643.0 L925.8,644.9 L925.2,646.8 L924.6,648.8 L924.0,650.7 L923.4,652.6 L922.9,654.5 L922.3,656.4 L921.7,658.3 L921.1,660.3 L920.6,662.2 L920.0,664.1 L919.5,666.0 L918.9,668.0 L918.3,669.9 L917.8,671.8 L917.2,673.7 L916.7,675.7 L916.1,677.6 L915.6,679.5 L915.0,681.5 L914.5,683.4 L913.9,685.3 L913.4,687.3 L912.8,689.2 L912.3,691.1 L911.8,693.1 L911.2,695.0 L910.7,696.9 L910.1,698.9 L909.6,700.8 L909.1,702.7 L908.5,704.7 L908.0,706.6 L907.5,708.5 L906.9,710.5 L906.4,712.4 L905.9,714.4 L905.3,716.3 L904.8,718.2 L904.3,720.2 L903.7,722.1 L903.2,724.0 L902.7,726.0 L902.1,727.9 L901.6,729.9 L901.1,731.8 L900.5,733.7 L900.0,735.7 L899.5,737.6 L898.9,739.5 L898.4,741.5 L897.9,743.4 L897.3,745.3 L896.8,747.3 L896.3,749.2 L895.7,751.1 L895.2,753.1 L894.6,755.0 L894.1,756.9 L893.5,758.9 L893.0,760.8 L892.5,762.7 L891.9,764.6 L891.4,766.6 L890.8,768.5 L890.3,770.4 L889.7,772.3 L889.2,774.3 L888.6,776.2 L888.0,778.1 L887.5,780.0 L886.9,781.9 L886.4,783.9 L885.8,785.8 L885.2,787.7 L884.7,789.6 L884.1,791.5 L883.5,793.4 L883.0,795.4 L882.4,797.3 L881.8,799.2 L881.3,801.1 L880.7,803.0 L880.1,804.9 L879.6,806.9 L879.0,808.8 L878.4,810.7 L877.9,812.6 L877.3,814.5 L876.7,816.4 L876.2,818.3 L875.6,820.3 L875.0,822.2 L874.5,824.1 L873.9,826.0 L873.3,827.9 L872.8,829.8 L872.2,831.8 L871.6,833.7 L871.1,835.6 L870.5,837.5 L869.9,839.4 L869.4,841.4 L868.8,843.3 L868.3,845.2 L867.7,847.1 L867.1,849.0 L866.6,851.0 L866.0,852.9 L865.5,854.8 L864.9,856.7 L864.4,858.7 L863.8,860.6 L863.3,862.5 L862.7,864.5 L862.2,866.4 L861.6,868.3 L861.1,870.3 L860.6,872.2 L860.0,874.1 L859.5,876.1 L858.9,878.0 L858.4,879.9 L857.8,881.9 L857.3,883.8 L856.7,885.8 L856.2,887.7 L855.7,889.6 L855.1,891.6 L854.6,893.5 L854.0,895.4 L853.4,897.4 L852.9,899.3 L852.3,901.2 L851.8,903.2 L851.2,905.1 L850.6,907.0 L850.0,908.9 L849.5,910.9 L848.9,912.8 L848.3,914.7 L847.7,916.6 L847.1,918.5 L846.5,920.5 L845.9,922.4 L845.3,924.3 L844.6,926.2 L844.0,928.1 L843.4,930.0 L842.7,931.9 L842.1,933.8 L841.4,935.7 L840.7,937.6 L840.1,939.4 L839.4,941.3 L838.7,943.2 L838.0,945.1 L837.3,946.9 L836.6,948.8 L835.8,950.7 L835.1,952.5 L834.4,954.4 L833.6,956.2 L832.8,958.1 L832.1,959.9 L831.3,961.7 L830.5,963.5 L829.7,965.4 L828.8,967.2 L828.0,969.0 L827.1,970.8 L826.3,972.6 L825.4,974.4 L824.5,976.2 L823.6,977.9 L822.7,979.7 L821.7,981.5 L820.7,983.2 L819.7,984.9 L818.7,986.7 L817.7,988.4 L816.6,990.1 L815.5,991.7 L814.3,993.4 L813.2,995.0 L812.0,996.7 L810.7,998.3 L809.4,999.9 L808.1,1001.4 L806.8,1003.0 L805.3,1004.4 L803.9,1005.8 L802.3,1007.1 L800.7,1008.3 L799.0,1009.3 L797.2,1010.2 L795.3,1010.8 L793.3,1011.3 L791.4,1011.4 L789.5,1011.3 L787.6,1010.9 L785.8,1010.3 L784.0,1009.5 L782.2,1008.5 L780.5,1007.4 L778.9,1006.3 L777.3,1005.0 L775.7,1003.7 L774.2,1002.3 L772.8,1000.9 L771.4,999.4 L770.0,998.0 L768.7,996.4 L767.4,994.9 L766.2,993.3 L765.0,991.6 L763.8,990.0 L762.7,988.3 L761.5,986.7 L760.4,985.0 L759.3,983.3 L758.2,981.6 L757.2,979.9 L756.1,978.2 L755.1,976.5 L754.1,974.8 L753.1,973.0 L752.1,971.3 L751.1,969.6 L750.1,967.9 L749.1,966.1 L748.1,964.4 L747.2,962.6 L746.2,960.9 L745.3,959.2 L744.3,957.4 L743.3,955.7 L742.4,953.9 L741.4,952.2 L740.4,950.4 L739.5,948.7 L738.5,947.0 L737.5,945.2 L736.5,943.5 L735.5,941.8 L734.5,940.0 L733.5,938.3 L732.4,936.6 L731.4,934.9 L730.3,933.2 L729.3,931.5 L728.2,929.8 L727.1,928.1 L726.0,926.4 L724.9,924.7 L723.8,923.0 L722.6,921.4 L721.5,919.7 L720.3,918.0 L719.1,916.4 L718.0,914.8 L716.8,913.1 L715.6,911.5 L714.3,909.9 L713.1,908.3 L711.9,906.7 L710.6,905.1 L709.4,903.5 L708.1,901.9 L706.8,900.4 L705.5,898.8 L704.2,897.3 L702.9,895.7 L701.6,894.2 L700.2,892.7 L698.9,891.2 L697.5,889.7 L696.1,888.3 L694.8,886.8 L693.4,885.3 L692.0,883.9 L690.5,882.5 L689.1,881.1 L687.7,879.7 L686.2,878.3 L684.8,876.9 L683.3,875.5 L681.8,874.2 L680.3,872.9 L678.8,871.6 L677.3,870.3 L675.8,869.0 L674.2,867.7 L672.7,866.4 L671.1,865.2 L669.6,864.0 L668.0,862.8 L666.4,861.6 L664.8,860.4 L663.2,859.3 L661.5,858.1 L659.9,857.0 L658.3,855.9 L656.6,854.8 L654.9,853.7 L653.3,852.7 L651.6,851.7 L649.9,850.7 L648.2,849.7 L646.5,848.7 L644.7,847.7 L643.0,846.8 L641.2,845.9 L639.5,845.0 L637.7,844.1 L635.9,843.3 L634.1,842.5 L632.3,841.7 L630.5,840.9 L628.7,840.1 L626.9,839.4 L625.0,838.6 L623.2,838.0 L621.3,837.3 L619.4,836.6 L617.5,836.0 L615.6,835.4 L613.7,834.8 L611.8,834.3 L609.9,833.7 L607.9,833.2 L606.0,832.7 L604.0,832.3 L602.1,831.8 L600.1,831.4 L598.1,831.0 L596.2,830.6 L594.2,830.2 L592.2,829.9 L590.2,829.6 L588.2,829.2 L586.1,828.9 L584.1,828.7 L582.1,828.4 L580.1,828.1 L578.0,827.9 L576.0,827.7 L574.0,827.5 L571.9,827.3 L569.9,827.1 L567.8,826.9 L565.8,826.7 L563.7,826.6 L561.7,826.4 L559.6,826.3 L557.6,826.2 L555.5,826.0 L553.5,825.9 L551.4,825.8 L549.4,825.7 L547.3,825.6 L545.3,825.6 L543.2,825.5 L541.2,825.4 L539.2,825.3 L537.1,825.3 L535.1,825.2 L533.1,825.1 L531.0,825.1 L529.0,825.0 L527.0,825.0 L525.0,824.9 L523.0,824.9 L521.0,824.8 L519.0,824.8 L517.0,824.7 L515.0,824.7 L513.0,824.6 L511.1,824.6 L509.1,824.5 L507.1,824.5 L505.1,824.4 L503.2,824.4 L501.2,824.3 L499.2,824.3 L497.3,824.3 L495.3,824.2 L493.4,824.2 L491.4,824.2 L489.4,824.1 L487.5,824.1 L485.5,824.1 L483.6,824.0 L481.6,824.0 L479.7,824.0 L477.7,824.0 L475.8,823.9 L473.8,823.9 L471.9,823.9 L469.9,823.9 L467.9,823.9 L466.0,823.8 L464.0,823.8 L462.1,823.8 L460.1,823.8 L458.1,823.8 L456.2,823.8 L454.2,823.8 L452.2,823.8 L450.3,823.8 L448.3,823.8 L446.3,823.8 L444.3,823.8 L442.3,823.8 L440.4,823.8 L438.4,823.8 L436.4,823.8 L434.4,823.9 L432.4,823.9 L430.4,823.9 L428.3,823.9 L426.3,823.9 L424.3,824.0 L422.3,824.0 L420.2,824.0 L418.2,824.1 L416.1,824.1 L414.1,824.1 L412.0,824.2 L410.0,824.2 L407.9,824.2 L405.8,824.3 L403.7,824.3 L401.6,824.4 L399.5,824.4 L397.4,824.5"/>
<path stroke="#ff00ff" d="M397.4,817.8 L398.4,817.8 L399.4,817.8 L400.4,817.8 L401.4,817.7 L402.4,817.7 L403.4,817.7 L404.4,817.7 L405.4,817.7 L406.4,817.6 L407.4,817.6 L408.4,817.6 L409.4,817.6 L410.4,817.6 L411.4,817.5 L412.4,817.5 L413.4,817.5 L414.4,817.4 L415.4,817.4 L416.5,817.4 L417.5,817.4 L418.5,817.3 L419.5,817.3 L420.5,817.3 L421.5,817.2 L422.5,817.2 L423.5,817.2 L424.5,817.1 L425.5,817.1 L426.5,817.0 L427.5,817.0 L428.4,817.0 L429.4,816.9 L430.4,816.9 L431.4,816.8 L432.4,816.8 L433.4,816.8 L434.4,816.7 L435.4,816.7 L436.4,816.6 L437.4,816.6 L438.4,816.5 L439.4,816.5 L440.4,816.4 L441.4,816.4 L442.4,816.3 L443.4,816.3 L444.4,816.2 L445.4,816.2 L446.4,816.1 L447.4,816.1 L448.4,816.0 L449.4,816.0 L450.4,815.9 L451.4,815.8 L452.4,815.8 L453.4,815.7 L454.4,815.7 L455.4,815.6 L456.4,815.5 L457.4,815.5 L458.4,815.4 L459.4,815.4 L460.4,815.3 L461.4,815.2 L462.4,815.2 L463.4,815.1 L464.4,815.0 L465.4,815.0 L466.4,814.9 L467.4,814.8 L468.4,814.7 L469.4,814.7 L470.4,814.6 L471.4,814.5 L472.4,814.5 L473.3,814.4 L474.3,814.3 L475.3,814.2 L476.3,814.1 L477.3,814.1 L478.3,814.0 L479.3,813.9 L480.3,813.8 L481.3,813.8 L482.3,813.7 L483.3,813.6 L484.3,813.5 L485.3,813.4 L486.3,813.3 L487.3,813.2 L488.3,813.2 L489.3,813.1 L490.3,813.0 L491.3,812.9 L492.3,812.8 L493.3,812.7 L494.3,812.6 L495.3,812.5 L496.3,812.4 L497.3,812.3 L498.3,812.2 L499.3,812.1 L500.3,812.0 L501.3,811.9 L502.3,811.8 L503.3,811.7 L504.3,811.6 L505.3,811.4 L506.3,811.3 L507.3,811.2 L508.3,811.1 L509.2,811.0 L510.2,810.8 L511.2,810.7 L512.2,810.6 L513.2,810.4 L514.2,810.3 L515.2,810.2 L516.2,810.0 L517.2,809.9 L518.2,809.7 L519.2,809.6 L520.2,809.4 L521.1,809.3 L522.1,809.1 L523.1,808.9 L524.1,808.8 L525.1,808.6 L526.1,808.4 L527.1,808.2 L528.0,808.1 L529.0,807.9 L530.0,807.7 L531.0,807.5 L532.0,807.3 L532.9,807.1 L533.9,806.9 L534.9,806.7 L535.9,806.5 L536.9,806.3 L537.8,806.1 L538.8,805.9 L539.8,805.6 L540.8,805.4 L541.7,805.2 L542.7,804.9 L543.7,804.7 L544.6,804.5 L545.6,804.2 L546.6,804.0 L547.5,803.7 L548.5,803.4 L549.5,803.2 L550.4,802.9 L551.4,802.6 L552.4,802.3 L553.3,802.1 L554.3,801.8 L555.2,801.5 L556.2,801.2 L557.1,800.9 L558.1,800.6 L559.0,800.2 L560.0,799.9 L560.9,799.6 L561.9,799.3 L562.8,798.9 L563.8,798.6 L564.7,798.3 L565.6,797.9 L566.6,797.6 L567.5,797.2 L568.4,796.8 L569.4,796.5 L570.3,796.1 L571.2,795.7 L572.2,795.3 L573.1,794.9 L574.0,794.5 L574.9,794.1 L575.8,793.7 L576.7,793.3 L577.6,792.9 L578.5,792.5 L579.5,792.1 L580.4,791.6 L581.3,791.2 L582.1,790.7 L583.0,790.3 L583.9,789.8 L584.8,789.4 L585.7,788.9 L586.6,788.4 L587.5,787.9 L588.3,787.4 L589.2,787.0 L590.1,786.5 L590.9,786.0 L591.8,785.4 L592.7,784.9 L593.5,784.4 L594.4,783.9 L595.2,783.3 L596.1,782.8 L596.9,782.3 L597.8,781.7 L598.6,781.2 L599.4,780.6 L600.3,780.0 L601.1,779.5 L601.9,778.9 L602.7,778.3 L603.5,777.8 L604.4,777.2 L605.2,776.6 L606.0,776.0 L606.8,775.4 L607.6,774.8 L608.4,774.2 L609.2,773.6 L610.0,773.0 L610.8,772.4 L611.6,771.8 L612.4,771.2 L613.1,770.5 L613.9,769.9 L614.7,769.3 L615.5,768.7 L616.3,768.0 L617.0,767.4 L617.8,766.8 L618.6,766.2 L619.4,765.5 L620.1,764.9 L620.9,764.3 L621.7,763.6 L622.5,763.0 L623.2,762.4 L624.0,761.7 L624.8,761.1 L625.6,760.5 L626.3,759.8 L627.1,759.2 L627.9,758.6 L628.7,757.9 L629.5,757.3 L630.2,756.7 L631.0,756.1 L631.8,755.4 L632.6,754.8 L633.4,754.2 L634.2,753.6 L635.0,753.0 L635.8,752.3 L636.6,751.7 L637.4,751.1 L638.2,750.5 L639.0,749.9 L639.8,749.3 L640.6,748.7 L641.4,748.2 L642.2,747.6 L643.1,747.0 L643.9,746.5 L644.8,746.0 L645.6,745.4 L646.5,744.9 L647.3,744.4 L648.2,744.0 L649.1,743.5 L650.0,743.1 L650.9,742.7 L651.8,742.3 L652.7,741.9 L653.6,741.6 L654.6,741.3 L655.5,741.0 L656.5,740.8 L657.4,740.5 L658.4,740.3 L659.4,740.1 L660.4,740.0 L661.4,739.8 L662.4,739.6 L663.4,739.4 L664.4,739.3 L665.3,739.1 L666.3,738.9 L667.3,738.7 L668.3,738.5 L669.3,738.4 L670.3,738.1 L671.3,737.9 L672.3,737.7 L673.2,737.5 L674.2,737.3 L675.2,737.1 L676.2,736.8 L677.2,736.6 L678.1,736.3 L679.1,736.1 L680.1,735.8 L681.1,735.6 L682.0,735.3 L683.0,735.0 L684.0,734.8 L684.9,734.5 L685.9,734.2 L686.8,733.9 L687.8,733.6 L688.7,733.3 L689.7,733.0 L690.6,732.6 L691.6,732.3 L692.5,732.0 L693.5,731.6 L694.4,731.3 L695.3,730.9 L696.3,730.6 L697.2,730.2 L698.1,729.8 L699.0,729.4 L700.0,729.1 L700.9,728.7 L701.8,728.3 L702.7,727.8 L703.6,727.4 L704.5,727.0 L705.4,726.6 L706.3,726.1 L707.2,725.7 L708.1,725.2 L709.0,724.8 L709.8,724.3 L710.7,723.9 L711.6,723.4 L712.5,722.9 L713.3,722.4 L714.2,721.9 L715.0,721.4 L715.9,720.9 L716.7,720.3 L717.6,719.8 L718.4,719.3 L719.3,718.7 L720.1,718.2 L720.9,717.6 L721.7,717.0 L722.5,716.4 L723.4,715.9 L724.2,715.3 L725.0,714.7 L725.7,714.1 L726.5,713.5 L727.3,712.8 L728.1,712.2 L728.9,711.6 L729.6,710.9 L730.4,710.3 L731.1,709.6 L731.9,709.0 L732.6,708.3 L733.4,707.6 L734.1,706.9 L734.8,706.2 L735.5,705.5 L736.2,704.8 L736.9,704.1 L737.6,703.4 L738.3,702.7 L739.0,702.0 L739.6,701.2 L740.3,700.5 L741.0,699.7 L741.6,699.0 L742.3,698.2 L742.9,697.4 L743.5,696.6 L744.1,695.9 L744.7,695.1 L745.3,694.3 L745.9,693.5 L746.5,692.7 L747.1,691.8 L747.7,691.0 L748.2,690.2 L748.8,689.4 L749.3,688.5 L749.9,687.7 L750.4,686.8 L750.9,686.0 L751.5,685.1 L752.0,684.3 L752.5,683.4 L753.0,682.5 L753.5,681.7 L754.0,680.8 L754.5,679.9 L755.0,679.1 L755.5,678.2 L756.0,677.3 L756.5,676.4 L757.0,675.6 L757.4,674.7 L757.9,673.8 L758.4,672.9 L758.9,672.1 L759.4,671.2 L759.8,670.3 L760.3,669.5 L760.8,668.6 L761.3,667.7 L761.8,666.8 L762.3,666.0 L762.8,665.1 L763.2,664.2 L763.7,663.4 L764.2,662.5 L764.7,661.6 L765.2,660.7 L765.7,659.9 L766.2,659.0 L766.7,658.1 L767.2,657.3 L767.7,656.4 L768.2,655.5 L768.7,654.6 L769.1,653.8 L769.6,652.9 L770.1,652.0 L770.6,651.1 L771.1,650.2 L771.5,649.4 L772.0,648.5 L772.5,647.6 L772.9,646.7 L773.4,645.8 L773.8,644.9 L774.3,644.0 L774.7,643.1 L775.1,642.2 L775.6,641.3 L776.0,640.4 L776.4,639.5 L776.8,638.6 L777.2,637.7 L777.6,636.8 L778.0,635.8 L778.4,634.9 L778.8,634.0 L779.2,633.1 L779.5,632.2 L779.9,631.2 L780.3,630.3 L780.6,629.4 L781.0,628.5 L781.4,627.5 L781.7,626.6 L782.1,625.7 L782.4,624.7 L782.8,623.8 L783.1,622.9 L783.5,621.9 L783.8,621.0 L784.2,620.0 L784.5,619.1 L784.9,618.2 L785.2,617.2 L785.5,616.3 L785.9,615.4 L786.2,614.4 L786.5,613.5 L786.9,612.5 L787.2,611.6 L787.6,610.7 L787.9,609.7 L788.2,608.8 L788.6,607.8 L788.9,606.9 L789.2,605.9 L789.5,605.0 L789.9,604.1 L790.2,603.1 L790.5,602.2 L790.8,601.2 L791.2,600.3 L791.5,599.3 L791.8,598.4 L792.1,597.4 L792.5,596.5 L792.8,595.6 L793.1,594.6 L793.4,593.7 L793.7,592.7 L794.1,591.8 L794.4,590.8 L794.7,589.9 L795.0,588.9 L795.3,588.0 L795.6,587.0 L795.9,586.1 L796.2,585.1 L796.6,584.2 L796.9,583.2 L797.2,582.3 L797.5,581.3 L797.8,580.4 L798.1,579.4 L798.4,578.5 L798.7,577.5 L799.0,576.6 L799.3,575.6 L799.6,574.6 L799.9,573.7 L800.2,572.7 L800.5,571.8 L800.8,570.8 L801.1,569.9 L801.4,568.9 L801.7,568.0 L802.0,567.0 L802.3,566.1 L802.6,565.1 L802.9,564.1 L803.2,563.2 L803.5,562.2 L803.8,561.3 L804.1,560.3 L804.4,559.4 L804.7,558.4 L805.0,557.5 L805.3,556.5 L805.6,555.5 L805.9,554.6 L806.2,553.6 L806.5,552.7 L806.7,551.7 L807.0,550.7 L807.3,549.8 L807.6,548.8 L807.9,547.9 L808.2,546.9 L808.5,546.0 L808.8,545.0 L809.1,544.0 L809.3,543.1 L809.6,542.1 L809.9,541.2 L810.2,540.2 L810.5,539.2 L810.8,538.3 L811.1,537.3 L811.3,536.4 L811.6,535.4 L811.9,534.4 L812.2,533.5 L812.5,532.5 L812.8,531.6 L813.0,530.6 L813.3,529.6 L813.6,528.7 L813.9,527.7 L814.2,526.7 L814.5,525.8 L814.7,524.8 L815.0,523.9 L815.3,522.9 L815.6,521.9 L815.9,521.0 L816.1,520.0 L816.4,519.1 L816.7,518.1 L817.0,517.1 L817.3,516.2 L817.5,515.2 L817.8,514.2 L818.1,513.3 L818.4,512.3 L818.6,511.4 L818.9,510.4 L819.2,509.4 L819.5,508.5 L819.8,507.5 L820.0,506.5 L820.3,505.6 L820.6,504.6 L820.9,503.7 L821.1,502.7 L821.4,501.7 L821.7,500.8 L822.0,499.8 L822.3,498.8 L822.5,497.9 L822.8,496.9 L823.1,496.0 L823.4,495.0 L823.6,494.0 L823.9,493.1 L824.2,492.1 L824.5,491.1 L824.8,490.2 L825.0,489.2 L825.3,488.3 L825.6,487.3 L825.9,486.3 L826.1,485.4 L826.4,484.4 L826.7,483.5 L827.0,482.5 L827.3,481.5 L827.5,480.6 L827.8,479.6 L828.1,478.6 L828.4,477.7 L828.6,476.7 L828.9,475.8 L829.2,474.8 L829.5,473.8 L829.8,472.9 L830.0,471.9 L830.3,470.9 L830.6,470.0 L830.9,469.0 L831.1,468.1 L831.4,467.1 L831.7,466.1 L832.0,465.2 L832.2,464.2 L832.5,463.3 L832.8,462.3 L833.1,461.3 L833.3,460.4 L833.6,459.4 L833.9,458.4 L834.2,457.5 L834.4,456.5 L834.7,455.6 L835.0,454.6 L835.3,453.6 L835.6,452.7 L835.8,451.7 L836.1,450.8 L836.4,449.8 L836.7,448.8 L836.9,447.9 L837.2,446.9 L837.5,445.9 L837.7,445.0 L838.0,444.0 L838.3,443.1 L838.6,442.1 L838.8,441.1 L839.1,440.2 L839.4,439.2 L839.7,438.2 L839.9,437.3 L840.2,436.3 L840.5,435.4 L840.8,434.4 L841.0,433.4 L841.3,432.5 L841.6,431.5 L841.8,430.5 L842.1,429.6 L842.4,428.6 L842.7,427.7 L842.9,426.7 L843.2,425.7 L843.5,424.8 L843.7,423.8 L844.0,422.8 L844.3,421.9 L844.5,420.9 L844.8,419.9 L845.1,419.0 L845.4,418.0 L845.6,417.1 L845.9,416.1 L846.2,415.1 L846.4,414.2 L846.7,413.2 L847.0,412.2 L847.2,411.3 L847.5,410.3 L847.8,409.3 L848.0,408.4 L848.3,407.4 L848.6,406.5 L848.8,405.5 L849.1,404.5 L849.4,403.6 L849.6,402.6 L849.9,401.6 L850.2,400.7 L850.4,399.7 L850.7,398.7 L850.9,397.8 L851.2,396.8 L851.5,395.8 L851.7,394.9 L852.0,393.9 L852.3,392.9 L852.5,392.0 L852.8,391.0 L853.0,390.1 L853.3,389.1 L853.6,388.1 L853.8,387.2 L854.1,386.2 L854.3,385.2 L854.6,384.3 L854.9,383.3 L855.1,382.3 L855.4,381.4 L855.6,380.4 L855.9,379.4 L856.1,378.5 L856.4,377.5 L856.7,376.5 L856.9,375.6 L857.2,374.6 L857.4,373.6 L857.7,372.6 L857.9,371.7 L858.2,370.7 L858.4,369.7 L858.7,368.8 L858.9,367.8 L859.2,366.8 L859.5,365.9 L859.7,364.9 L860.0,363.9 L860.2,363.0 L860.5,362.0 L860.7,361.0 L861.0,360.1 L861.2,359.1 L861.5,358.1 L861.7,357.2 L862.0,356.2 L862.2,355.2 L862.5,354.2 L862.7,353.3 L863.0,352.3 L863.2,351.3 L863.5,350.4 L863.7,349.4 L864.0,348.4 L864.2,347.5 L864.5,346.5 L864.7,345.5 L865.0,344.6 L865.2,343.6 L865.5,342.6 L865.7,341.6 L866.0,340.7 L866.2,339.7 L866.5,338.7 L866.7,337.8 L867.0,336.8 L867.2,335.8 L867.5,334.9 L867.7,333.9 L868.0,332.9 L868.2,332.0 L868.5,331.0 L868.7,330.0 L869.0,329.0 L869.2,328.1 L869.5,327.1 L869.7,326.1 L870.0,325.2 L870.2,324.2 L870.5,323.2 L870.7,322.3 L871.0,321.3 L871.3,320.3 L871.5,319.4 L871.8,318.4 L872.0,317.4 L872.3,316.5 L872.5,315.5 L872.8,314.5 L873.0,313.6 L873.3,312.6 L873.6,311.6 L873.8,310.7 L874.1,309.7 L874.3,308.7 L874.6,307.8 L874.8,306.8 L875.1,305.8 L875.4,304.9 L875.6,303.9 L875.9,302.9 L876.1,302.0 L876.4,301.0 L876.7,300.0 L876.9,299.1 L877.2,298.1 L877.5,297.1 L877.7,296.2 L878.0,295.2 L878.3,294.2 L878.5,293.3 L878.8,292.3 L879.1,291.3 L879.3,290.4 L879.6,289.4 L879.9,288.4 L880.1,287.5 L880.4,286.5 L880.7,285.6 L880.9,284.6 L881.2,283.6 L881.5,282.7 L881.8,281.7 L882.0,280.8 L882.3,279.8 L882.6,278.8 L882.9,277.9 L883.2,276.9 L883.4,275.9 L883.7,275.0 L884.0,274.0 L884.3,273.1 L884.6,272.1 L884.8,271.1 L885.1,270.2 L885.4,269.2 L885.7,268.3 L886.0,267.3 L886.3,266.4 L886.6,265.4 L886.9,264.4 L887.1,263.5 L887.4,262.5 L887.7,261.6 L888.0,260.6 L888.3,259.7 L888.6,258.7 L888.9,257.8 L889.2,256.8 L889.5,255.8 L889.8,254.9 L890.1,253.9 L890.4,253.0 L890.7,252.0 L891.0,251.1 L891.3,250.1 L891.6,249.2 L891.9,248.2 L892.3,247.3 L892.6,246.3 L892.9,245.4 L893.2,244.4 L893.5,243.5 L893.8,242.5 L894.1,241.6 L894.5,240.6 L894.8,239.7 L895.1,238.7 L895.4,237.8 L895.7,236.8 L896.1,235.9 L896.4,234.9 L896.7,234.0 L897.0,233.1 L897.4,232.1 L897.7,231.2 L898.0,230.2 L898.4,229.3 L898.7,228.3 L899.0,227.4 L899.4,226.5 L899.7,225.5 L900.1,224.6 L900.4,223.6 L900.7,222.7 L901.1,221.7 L901.4,220.8 L901.8,219.9 L902.1,218.9 L902.5,218.0 L902.8,217.1 L903.2,216.1 L903.5,215.2 L903.9,214.2 L904.3,213.3 L904.6,212.4 L905.0,211.4 L905.3,210.5 L905.7,209.6 L906.1,208.6 L906.4,207.7 L906.8,206.8 L907.2,205.8 L907.5,204.9 L907.9,204.0 L908.3,203.0 L908.6,202.1 L909.0,201.2 L909.4,200.3 L909.8,199.3 L910.1,198.4 L910.5,197.5 L910.9,196.5 L911.3,195.6 L911.6,194.7 L912.0,193.8 L912.4,192.8 L912.8,191.9 L913.2,191.0 L913.6,190.1 L914.0,189.1 L914.3,188.2 L914.7,187.3 L915.1,186.4 L915.5,185.5 L915.9,184.5 L916.3,183.6 L916.7,182.7 L917.1,181.8 L917.5,180.9 L917.9,179.9 L918.3,179.0 L918.7,178.1 L919.1,177.2 L919.5,176.3 L919.9,175.4 L920.3,174.4 L920.7,173.5 L921.1,172.6 L921.5,171.7 L921.9,170.8 L922.3,169.9 L922.7,169.0 L923.2,168.1 L923.6,167.2 L924.1,166.3 L924.5,165.4 L925.0,164.6 L925.5,163.7 L926.0,162.9 L926.5,162.1 L927.0,161.2 L927.6,160.4 L928.1,159.6 L928.7,158.8 L929.3,158.1 L929.9,157.3 L930.5,156.5 L931.1,155.7 L931.8,154.9 L932.4,154.1 L933.1,153.3 L933.7,152.5 L934.4,151.7 L935.1,150.9 L935.8,150.2 L936.5,149.4 L937.2,148.6 L937.9,147.9 L938.7,147.2 L939.4,146.5 L940.2,145.8 L941.0,145.2 L941.8,144.5 L942.6,143.9 L943.4,143.4 L944.2,142.8 L945.1,142.3 L946.0,141.9 L946.9,141.5 L947.8,141.1 L948.7,140.8 L949.6,140.5 L950.6,140.2 L951.5,140.0 L952.5,139.9 L953.5,139.7 L954.4,139.7 L955.4,139.6 L956.4,139.6 L957.4,139.6 L958.4,139.7 L959.4,139.8 L960.4,140.0 L961.3,140.1 L962.3,140.4 L963.3,140.6 L964.2,140.9 L965.2,141.2 L966.1,141.6 L967.0,142.0 L967.9,142.4 L968.8,142.9 L969.7,143.4 L970.5,143.9 L971.4,144.4 L972.2,145.0 L973.0,145.6 L973.8,146.2 L974.5,146.9 L975.3,147.5 L976.1,148.2 L976.8,148.9 L977.5,149.6 L978.3,150.3 L979.0,151.0 L979.7,151.8 L980.4,152.5 L981.1,153.3 L981.8,154.0 L982.5,154.8 L983.2,155.5 L983.9,156.2 L984.6,157.0 L985.2,157.7 L985.9,158.4 L986.6,159.2 L987.3,159.9 L988.0,160.6 L988.6,161.4 L989.3,162.1 L990.0,162.8 L990.7,163.5 L991.3,164.3 L992.0,165.0 L992.7,165.7 L993.3,166.4 L994.0,167.2 L994.6,167.9 L995.3,168.6 L996.0,169.4 L996.6,170.1 L997.3,170.9 L997.9,171.6 L998.6,172.4 L999.2,173.1 L999.9,173.9 L1000.5,174.6 L1001.2,175.4 L1001.8,176.1 L1002.5,176.9 L1003.1,177.7 L1003.8,178.4 L1004.4,179.2 L1005.0,179.9 L1005.7,180.7 L1006.3,181.5 L1007.0,182.2 L1007.6,183.0 L1008.3,183.8 L1008.9,184.6 L1009.5,185.3 L1010.2,186.1 L1010.8,186.9 L1011.5,187.7 L1012.1,188.4 L1012.7,189.2 L1013.4,190.0 L1014.0,190.7 L1014.7,191.5 L1015.3,192.3 L1016.0,193.1 L1016.6,193.8 L1017.3,194.6 L1017.9,195.4 L1018.6,196.2 L1019.2,196.9 L1019.9,197.7 L1020.5,198.5 L1021.2,199.2 L1021.8,200.0 L1022.5,200.8 L1023.1,201.5 L1023.8,202.3 L1024.5,203.0 L1025.1,203.8 L1025.8,204.5 L1026.5,205.3 L1027.1,206.0 L1027.8,206.8 L1028.5,207.5 L1029.1,208.3 L1029.8,209.0 L1030.5,209.8 L1031.2,210.5 L1031.9,211.2 L1032.6,212.0 L1033.3,212.7 L1033.9,213.4 L1034.6,214.1 L1035.3,214.8 L1036.0,215.5 L1036.8,216.3 L1037.5,217.0 L1038.2,217.7 L1038.9,218.4 L1039.6,219.1 L1040.3,219.7 L1041.0,220.4 L1041.8,221.1 L1042.5,221.8 L1043.2,222.5 L1044.0,223.1 L1044.7,223.8 L1045.5,224.4 L1046.2,225.1 L1047.0,225.7 L1047.7,226.4 L1048.5,227.0 L1049.3,227.6 L1050.0,228.3 L1050.8,228.9 L1051.6,229.5 L1052.4,230.1 L1053.2,230.7 L1054.0,231.3 L1054.8,231.9 L1055.6,232.5 L1056.4,233.1 L1057.2,233.7 L1058.0,234.2 L1058.8,234.8 L1059.6,235.4 L1060.5,235.9 L1061.3,236.5 L1062.1,237.0 L1063.0,237.6 L1063.8,238.1 L1064.6,238.6 L1065.5,239.2 L1066.3,239.7 L1067.2,240.2 L1068.0,240.7 L1068.9,241.2 L1069.8,241.7 L1070.6,242.2 L1071.5,242.7 L1072.4,243.2 L1073.2,243.7 L1074.1,244.2 L1075.0,244.6 L1075.9,245.1 L1076.8,245.6 L1077.7,246.0 L1078.6,246.5 L1079.5,246.9 L1080.3,247.4 L1081.2,247.8 L1082.2,248.2 L1083.1,248.7 L1084.0,249.1 L1084.9,249.5 L1085.8,249.9 L1086.7,250.4 L1087.6,250.8 L1088.5,251.2 L1089.5,251.6 L1090.4,252.0 L1091.3,252.4 L1092.2,252.7 L1093.2,253.1 L1094.1,253.5 L1095.0,253.9 L1096.0,254.3 L1096.9,254.6 L1097.9,255.0 L1098.8,255.3 L1099.7,255.7 L1100.7,256.0 L1101.6,256.4 L1102.6,256.7 L1103.5,257.1 L1104.5,257.4 L1105.4,257.7 L1106.4,258.1 L1107.3,258.4 L1108.3,258.7 L1109.3,259.0 L1110.2,259.3 L1111.2,259.6 L1112.1,259.9 L1113.1,260.2 L1114.1,260.5 L1115.0,260.8 L1116.0,261.1 L1117.0,261.4 L1117.9,261.7 L1118.9,262.0 L1119.9,262.2 L1120.8,262.5 L1121.8,262.8 L1122.8,263.0 L1123.7,263.3 L1124.7,263.5 L1125.7,263.8 L1126.7,264.0 L1127.6,264.3 L1128.6,264.5 L1129.6,264.8 L1130.5,265.0 L1131.5,265.2 L1132.5,265.5 L1133.5,265.7 L1134.4,265.9 L1135.4,266.1 L1136.4,266.4 L1137.4,266.6 L1138.4,266.8 L1139.3,267.0 L1140.3,267.2 L1141.3,267.4 L1142.3,267.6 L1143.2,267.8 L1144.2,268.0 L1145.2,268.2 L1146.2,268.3 L1147.2,268.5 L1148.1,268.7 L1149.1,268.9 L1150.1,269.1 L1151.1,269.2 L1152.1,269.4 L1153.0,269.6 L1154.0,269.7 L1155.0,269.9 L1156.0,270.0 L1157.0,270.2 L1158.0,270.3 L1159.0,270.5 L1159.9,270.6 L1160.9,270.8 L1161.9,270.9 L1162.9,271.1 L1163.9,271.2 L1164.9,271.3 L1165.9,271.5 L1166.8,271.6 L1167.8,271.7 L1168.8,271.8 L1169.8,271.9 L1170.8,272.1 L1171.8,272.2 L1172.8,272.3 L1173.8,272.4 L1174.7,272.5 L1175.7,272.6 L1176.7,272.7 L1177.7,272.8 L1178.7,272.9 L1179.7,273.0 L1180.7,273.1 L1181.7,273.2 L1182.7,273.3 L1183.7,273.4 L1184.7,273.5 L1185.6,273.5 L1186.6,273.6 L1187.6,273.7 L1188.6,273.8 L1189.6,273.8 L1190.6,273.9 L1191.6,274.0 L1192.6,274.1 L1193.6,274.1 L1194.6,274.2 L1195.6,274.3 L1196.6,274.3 L1197.6,274.4 L1198.6,274.4 L1199.6,274.5 L1200.6,274.5 L1201.6,274.6 L1202.6,274.6 L1203.5,274.7 L1204.5,274.7 L1205.5,274.8 L1206.5,274.8 L1207.5,274.9 L1208.5,274.9 L1209.5,274.9 L1210.5,275.0 L1211.5,275.0 L1212.5,275.0 L1213.5,275.1 L1214.5,275.1 L1215.5,275.1 L1216.5,275.1 L1217.5,275.2 L1218.5,275.2 L1219.5,275.2 L1220.5,275.2 L1221.5,275.3 L1222.5,275.3 L1223.5,275.3 L1224.5,275.3 L1225.5,275.3 L1226.5,275.3 L1227.5,275.3 L1228.5,275.3 L1229.5,275.4 L1230.5,275.4 L1231.5,275.4 L1232.5,275.4 L1233.5,275.4 L1234.5,275.4 L1235.5,275.4 L1236.5,275.4 L1237.5,275.4 L1238.5,275.4 L1239.5,275.4 L1240.5,275.4 L1241.5,275.4 L1242.5,275.4 L1243.5,275.4 L1244.5,275.3 L1245.6,275.3 L1246.6,275.3 L1247.6,275.3 L1248.6,275.3 L1249.6,275.3 L1250.6,275.3 L1251.6,275.3 L1252.6,275.3 L1253.6,275.2 L1254.6,275.2 L1255.6,275.2 L1256.6,275.2 L1257.6,275.2 L1258.6,275.2 L1259.6,275.1 L1260.6,275.1 L1261.6,275.1 L1262.6,275.1 L1263.6,275.1 L1264.6,275.0 L1265.6,275.0 L1266.6,275.0 L1267.6,275.0 L1268.6,274.9 L1269.6,274.9 L1270.6,274.9 L1271.7,274.9 L1272.7,274.8 L1273.7,274.8 L1274.7,274.8 L1275.7,274.8 L1276.7,274.7 L1277.7,274.7 L1278.7,274.7 L1279.7,274.7 L1280.7,274.6 L1281.7,274.6 L1282.7,274.6 L1283.7,274.6 L1284.7,274.5 L1285.7,274.5 L1286.7,274.5 L1287.7,274.4 L1288.7,274.4 L1289.7,274.4 L1290.7,274.4 L1291.7,274.3 L1292.7,274.3 L1293.8,274.3 L1294.8,274.3 L1295.8,274.2 L1296.8,274.2 L1297.8,274.2 L1298.8,274.2 L1299.8,274.1 L1300.8,274.1 L1301.8,274.1 L1302.8,274.1 L1303.8,274.0 L1304.8,274.0 L1305.8,274.0 L1306.8,274.0 L1307.8,273.9 L1308.8,273.9 L1309.8,273.9 L1310.8,273.9 L1311.8,273.8 L1312.8,273.8 L1313.8,273.8 L1314.8,273.8 L1315.8,273.8 L1316.8,273.7 L1317.8,273.7 L1318.8,273.7 L1319.8,273.7 L1320.9,273.7 L1321.9,273.6 L1322.9,273.6 L1323.9,273.6 L1324.9,273.6 L1325.9,273.6 L1326.9,273.6 L1327.9,273.5 L1328.9,273.5 L1329.9,273.5 L1330.9,273.5 L1331.9,273.5 L1332.9,273.5 L1333.9,273.4 L1334.9,273.4 L1335.9,273.4 L1336.9,273.4 L1337.9,273.4 L1338.9,273.4 L1339.9,273.4 L1340.9,273.4 L1341.9,273.3 L1342.9,273.3 L1343.9,273.3 L1344.9,273.3 L1345.9,273.3 L1346.9,273.3 L1347.9,273.3 L1348.9,273.3 L1349.9,273.2 L1350.9,273.2 L1351.9,273.2 L1352.9,273.2 L1353.9,273.2 L1354.9,273.2 L1355.9,273.2 L1356.9,273.2 L1357.9,273.2 L1358.9,273.2 L1359.9,273.2 L1360.9,273.1 L1361.9,273.1 L1362.9,273.1 L1363.9,273.1 L1364.9,273.1 L1365.9,273.1 L1366.9,273.1 L1367.9,273.1 L1368.9,273.1 L1369.9,273.1 L1370.9,273.1 L1371.9,273.1 L1372.9,273.1 L1373.9,273.1 L1374.9,273.0 L1375.9,273.0 L1376.9,273.0 L1377.9,273.0 L1378.9,273.0 L1379.9,273.0 L1380.9,273.0 L1381.9,273.0 L1382.9,273.0 L1383.9,273.0 L1384.9,273.0 L1385.9,273.0 L1386.9,273.0 L1387.9,273.0 L1388.9,273.0 L1389.9,273.0 L1390.9,273.0 L1391.9,273.0 L1392.9,273.0 L1393.9,273.0 L1394.9,273.0 L1395.9,273.0 L1396.9,273.0 L1397.9,273.0 L1398.9,273.0 L1399.9,272.9 L1400.9,272.9 L1401.9,272.9 L1402.9,272.9 L1403.9,272.9 L1404.9,272.9 L1405.9,272.9 L1406.9,272.9 L1407.9,272.9 L1408.9,272.9 L1409.9,272.9 L1410.9,272.9 L1411.9,272.9 L1412.9,272.9 L1413.9,272.9 L1414.9,272.9 L1415.9,272.9 L1416.9,272.9 L1417.9,272.9 L1418.9,272.9 L1419.9,272.9 L1420.9,272.9 L1421.9,272.9 L1422.9,272.9 L1423.9,272.9 L1424.9,272.9 L1425.9,272.9 L1426.9,272.9 L1427.9,272.9 L1428.9,272.9 L1429.9,272.9 L1430.9,272.9 L1431.9,272.9 L1432.9,272.9 L1433.9,272.9 L1434.9,272.9 L1435.9,272.9 L1436.9,272.9 L1437.9,272.9 L1438.9,272.9 L1439.9,272.9 L1440.9,272.9 L1441.9,272.9 L1442.9,272.9 L1443.9,272.9 L1444.9,272.9 L1445.9,272.9 L1446.9,272.9 L1447.9,272.9 L1448.9,272.9 L1449.9,272.9 L1450.9,272.9 L1451.9,272.9 L1452.9,272.9 L1453.9,272.9 L1454.9,272.9 L1455.9,272.9 L1456.9,272.9 L1457.9,272.8 L1458.9,272.8 L1459.9,272.8 L1460.9,272.8 L1461.9,272.8 L1462.9,272.8 L1463.9,272.8 L1464.9,272.8 L1465.9,272.8 L1466.9,272.8 L1467.9,272.8 L1468.9,272.8 L1469.9,272.8 L1470.9,272.8 L1471.9,272.8 L1472.9,272.8 L1473.9,272.8 L1474.9,272.8 L1475.9,272.8 L1476.9,272.8 L1477.9,272.8 L1478.9,272.8 L1479.9,272.8 L1480.9,272.8 L1481.9,272.8 L1482.9,272.8 L1483.9,272.7 L1484.9,272.7 L1485.9,272.7 L1486.9,272.7 L1487.9,272.7 L1488.9,272.7 L1489.9,272.7 L1490.9,272.7 L1491.9,272.7 L1492.9,272.7 L1493.9,272.7 L1494.9,272.7 L1495.9,272.7 L1496.9,272.7 L1497.9,272.6 L1498.9,272.6 L1499.9,272.6 L1500.9,272.6 L1501.9,272.6 L1502.9,272.6 L1503.9,272.6 L1504.9,272.6 L1505.9,272.6 L1506.9,272.6 L1507.9,272.6 L1508.9,272.5 L1509.9,272.5 L1510.9,272.5 L1511.9,272.5 L1512.9,272.5 L1513.9,272.5 L1514.9,272.5 L1515.9,272.5 L1516.9,272.4 L1517.9,272.4 L1518.9,272.4 L1519.9,272.4 L1520.9,272.4 L1521.9,272.4 L1522.9,272.4 L1523.9,272.3 L1524.9,272.3 L1525.9,272.3 L1526.9,272.3 L1527.9,272.3 L1528.9,272.3 L1529.9,272.3 L1530.9,272.2 L1531.9,272.2 L1532.9,272.2 L1533.9,272.2 L1534.9,272.2 L1535.9,272.2 L1536.9,272.1 L1537.9,272.1 L1538.9,272.1 L1539.9,272.1 L1540.9,272.1 L1541.9,272.0 L1542.9,272.0 L1543.9,272.0 L1544.9,272.0 L1545.9,272.0 L1546.9,271.9 L1547.9,271.9 L1548.9,271.9 L1549.9,271.9 L1550.9,271.8 L1551.9,271.8 L1552.9,271.8 L1553.9,271.8 L1554.9,271.7 L1555.9,271.7 L1556.9,271.7 L1558.0,271.7 L1559.0,271.6 L1560.0,271.6 L1561.0,271.6 L1562.0,271.6 L1563.0,271.5 L1564.0,271.5 L1565.0,271.5 L1566.0,271.4 L1567.0,271.4 L1568.0,271.4 L1569.0,271.4 L1570.0,271.3 L1571.0,271.3 L1572.0,271.3 L1573.0,271.2 L1574.0,271.2 L1575.0,271.2 L1576.0,271.1 L1577.0,271.1 L1577.0,271.1 L1578.1,271.5 L1579.1,271.6 L1580.1,271.3 L1581.1,270.9 L1582.0,270.3 L1583.0,269.6 L1583.9,269.0 L1584.8,268.4 L1585.7,268.0 L1586.6,267.8 L1587.5,267.9 L1588.4,268.3 L1589.3,268.9 L1590.2,269.6 L1591.2,270.3 L1592.1,270.8 L1593.0,271.2 L1593.8,271.2 L1594.7,270.8 L1595.6,270.2 L1596.5,269.5 L1597.3,268.8 L1598.2,268.2 L1599.1,267.8 L1600.0,267.9 L1600.9,268.3 L1601.8,268.9 L1602.7,269.6 L1603.5,270.4 L1604.4,270.9 L1605.3,271.2 L1606.2,271.1 L1607.1,270.6 L1607.9,270.0 L1608.8,269.3 L1609.7,268.6 L1610.6,268.0 L1611.4,267.8 L1612.4,267.8 L1613.3,268.2 L1614.2,268.7 L1615.2,269.3 L1616.1,269.8 L1617.1,270.3 L1618.1,270.6 L1619.1,270.6 L1620.1,270.5 L1621.1,270.3 L1622.1,270.0 L1623.1,269.7 L1624.1,269.5 L1625.1,269.2 L1626.1,269.1 L1627.2,269.1 L1628.2,269.3 L1629.2,269.5 L1630.2,269.7 L1631.2,269.9 L1632.2,270.0 L1633.2,269.9 L1634.2,269.7 L1635.2,269.4 L1636.2,269.1 L1637.2,268.9 L1638.2,268.7 L1639.2,268.7 L1640.2,268.9 L1641.2,269.1 L1642.2,269.3 L1643.2,269.5 L1644.2,269.7 L1645.2,269.7 L1646.2,269.6 L1647.2,269.5 L1648.2,269.4 L1649.3,269.2 L1650.3,269.0 L1651.3,268.8 L1652.3,268.6 L1653.3,268.4 L1654.3,268.3 L1655.3,268.3 L1656.4,268.3 L1657.4,268.4 L1658.4,268.7 L1659.4,269.1 L1660.4,269.6 L1660.4,269.6 L1659.5,270.0 L1658.5,270.4 L1657.6,270.8 L1656.6,271.1 L1655.7,271.5 L1654.8,271.9 L1653.8,272.2 L1652.9,272.6 L1651.9,272.9 L1651.0,273.3 L1650.0,273.6 L1649.1,273.9 L1648.1,274.3 L1647.2,274.6 L1646.2,274.9 L1645.3,275.2 L1644.3,275.5 L1643.4,275.8 L1642.4,276.1 L1641.4,276.4 L1640.5,276.7 L1639.5,276.9 L1638.6,277.2 L1637.6,277.5 L1636.6,277.7 L1635.7,278.0 L1634.7,278.2 L1633.8,278.5 L1632.8,278.7 L1631.8,279.0 L1630.9,279.2 L1629.9,279.4 L1628.9,279.7 L1628.0,279.9 L1627.0,280.1 L1626.0,280.3 L1625.1,280.5 L1624.1,280.7 L1623.1,280.9 L1622.1,281.1 L1621.2,281.3 L1620.2,281.5 L1619.2,281.7 L1618.3,281.9 L1617.3,282.1 L1616.3,282.3 L1615.3,282.5 L1614.3,282.7 L1613.4,282.8 L1612.4,283.0 L1611.4,283.2 L1610.4,283.3 L1609.5,283.5 L1608.5,283.7 L1607.5,283.8 L1606.5,284.0 L1605.5,284.2 L1604.6,284.3 L1603.6,284.5 L1602.6,284.6 L1601.6,284.8 L1600.6,284.9 L1599.6,285.1 L1598.7,285.2 L1597.7,285.4 L1596.7,285.5 L1595.7,285.6 L1594.7,285.8 L1593.7,285.9 L1592.8,286.1 L1591.8,286.2 L1590.8,286.4 L1589.8,286.5 L1588.8,286.6 L1587.8,286.8 L1586.8,286.9 L1585.9,287.0 L1584.9,287.2 L1583.9,287.3 L1582.9,287.5 L1581.9,287.6 L1580.9,287.7 L1579.9,287.9 L1578.9,288.0 L1577.9,288.1 L1577.0,288.3 L1576.0,288.4 L1575.0,288.5 L1574.0,288.7 L1573.0,288.8 L1572.0,288.9 L1571.0,289.0 L1570.0,289.2 L1569.0,289.3 L1568.0,289.4 L1567.1,289.6 L1566.1,289.7 L1565.1,289.8 L1564.1,289.9 L1563.1,290.1 L1562.1,290.2 L1561.1,290.3 L1560.1,290.4 L1559.1,290.6 L1558.1,290.7 L1557.1,290.8 L1556.1,290.9 L1555.1,291.1 L1554.1,291.2 L1553.1,291.3 L1552.2,291.4 L1551.2,291.6 L1550.2,291.7 L1549.2,291.8 L1548.2,291.9 L1547.2,292.0 L1546.2,292.2 L1545.2,292.3 L1544.2,292.4 L1543.2,292.5 L1542.2,292.6 L1541.2,292.7 L1540.2,292.9 L1539.2,293.0 L1538.2,293.1 L1537.2,293.2 L1536.2,293.3 L1535.2,293.4 L1534.2,293.5 L1533.2,293.7 L1532.2,293.8 L1531.2,293.9 L1530.2,294.0 L1529.2,294.1 L1528.2,294.2 L1527.2,294.3 L1526.2,294.4 L1525.2,294.6 L1524.2,294.7 L1523.2,294.8 L1522.2,294.9 L1521.2,295.0 L1520.2,295.1 L1519.2,295.2 L1518.2,295.3 L1517.2,295.4 L1516.2,295.5 L1515.2,295.6 L1514.2,295.7 L1513.2,295.8 L1512.2,295.9 L1511.2,296.0 L1510.2,296.2 L1509.2,296.3 L1508.2,296.4 L1507.2,296.5 L1506.2,296.6 L1505.2,296.7 L1504.2,296.8 L1503.2,296.9 L1502.2,297.0 L1501.2,297.1 L1500.2,297.2 L1499.2,297.3 L1498.2,297.4 L1497.2,297.5 L1496.2,297.6 L1495.2,297.7 L1494.2,297.8 L1493.2,297.9 L1492.2,298.0 L1491.2,298.1 L1490.2,298.2 L1489.2,298.2 L1488.2,298.3 L1487.2,298.4 L1486.2,298.5 L1485.2,298.6 L1484.2,298.7 L1483.2,298.8 L1482.2,298.9 L1481.2,299.0 L1480.2,299.1 L1479.2,299.2 L1478.2,299.3 L1477.2,299.4 L1476.2,299.5 L1475.2,299.6 L1474.2,299.6 L1473.2,299.7 L1472.2,299.8 L1471.2,299.9 L1470.2,300.0 L1469.1,300.1 L1468.1,300.2 L1467.1,300.3 L1466.1,300.4 L1465.1,300.4 L1464.1,300.5 L1463.1,300.6 L1462.1,300.7 L1461.1,300.8 L1460.1,300.9 L1459.1,301.0 L1458.1,301.0 L1457.1,301.1 L1456.1,301.2 L1455.1,301.3 L1454.1,301.4 L1453.1,301.5 L1452.1,301.5 L1451.1,301.6 L1450.1,301.7 L1449.1,301.8 L1448.1,301.9 L1447.1,302.0 L1446.1,302.0 L1445.1,302.1 L1444.1,302.2 L1443.1,302.3 L1442.1,302.4 L1441.1,302.4 L1440.1,302.5 L1439.1,302.6 L1438.1,302.7 L1437.1,302.8 L1436.0,302.8 L1435.0,302.9 L1434.0,303.0 L1433.0,303.1 L1432.0,303.1 L1431.0,303.2 L1430.0,303.3 L1429.0,303.4 L1428.0,303.5 L1427.0,303.5 L1426.0,303.6 L1425.0,303.7 L1424.0,303.8 L1423.0,303.8 L1422.0,303.9 L1421.0,304.0 L1420.0,304.0 L1419.0,304.1 L1418.0,304.2 L1417.0,304.3 L1416.0,304.3 L1415.0,304.4 L1414.0,304.5 L1413.0,304.6 L1412.0,304.6 L1411.0,304.7 L1410.0,304.8 L1409.0,304.8 L1408.0,304.9 L1407.0,305.0 L1406.0,305.0 L1405.0,305.1 L1404.0,305.2 L1403.0,305.3 L1402.0,305.3 L1401.0,305.4 L1400.0,305.5 L1399.0,305.5 L1398.0,305.6 L1397.0,305.7 L1396.0,305.7 L1395.0,305.8 L1394.0,305.9 L1393.0,305.9 L1392.0,306.0 L1391.0,306.1 L1390.0,306.1 L1389.0,306.2 L1388.0,306.2 L1387.0,306.3 L1386.0,306.4 L1385.0,306.4 L1384.0,306.5 L1383.0,306.6 L1382.0,306.6 L1381.0,306.7 L1380.0,306.8 L1379.1,306.8 L1378.1,306.9 L1377.1,306.9 L1376.1,307.0 L1375.1,307.1 L1374.1,307.1 L1373.1,307.2 L1372.1,307.3 L1371.1,307.3 L1370.1,307.4 L1369.1,307.4 L1368.1,307.5 L1367.1,307.6 L1366.1,307.6 L1365.1,307.7 L1364.1,307.7 L1363.1,307.8 L1362.1,307.9 L1361.1,307.9 L1360.1,308.0 L1359.2,308.0 L1358.2,308.1 L1357.2,308.1 L1356.2,308.2 L1355.2,308.3 L1354.2,308.3 L1353.2,308.4 L1352.2,308.4 L1351.2,308.5 L1350.2,308.6 L1349.2,308.6 L1348.2,308.7 L1347.2,308.7 L1346.2,308.8 L1345.3,308.8 L1344.3,308.9 L1343.3,309.0 L1342.3,309.0 L1341.3,309.1 L1340.3,309.1 L1339.3,309.2 L1338.3,309.2 L1337.3,309.3 L1336.3,309.3 L1335.3,309.4 L1334.3,309.5 L1333.4,309.5 L1332.4,309.6 L1331.4,309.6 L1330.4,309.7 L1329.4,309.7 L1328.4,309.8 L1327.4,309.8 L1326.4,309.9 L1325.4,310.0 L1324.4,310.0 L1323.4,310.1 L1322.5,310.1 L1321.5,310.2 L1320.5,310.2 L1319.5,310.3 L1318.5,310.3 L1317.5,310.4 L1316.5,310.5 L1315.5,310.5 L1314.5,310.6 L1313.5,310.6 L1312.6,310.7 L1311.6,310.7 L1310.6,310.8 L1309.6,310.8 L1308.6,310.9 L1307.6,311.0 L1306.6,311.0 L1305.6,311.1 L1304.6,311.1 L1303.6,311.2 L1302.7,311.2 L1301.7,311.3 L1300.7,311.4 L1299.7,311.4 L1298.7,311.5 L1297.7,311.5 L1296.7,311.6 L1295.7,311.6 L1294.7,311.7 L1293.7,311.7 L1292.8,311.8 L1291.8,311.9 L1290.8,311.9 L1289.8,312.0 L1288.8,312.0 L1287.8,312.1 L1286.8,312.1 L1285.8,312.2 L1284.8,312.3 L1283.8,312.3 L1282.9,312.4 L1281.9,312.4 L1280.9,312.5 L1279.9,312.6 L1278.9,312.6 L1277.9,312.7 L1276.9,312.7 L1275.9,312.8 L1274.9,312.9 L1273.9,312.9 L1273.0,313.0 L1272.0,313.0 L1271.0,313.1 L1270.0,313.2 L1269.0,313.2 L1268.0,313.3 L1267.0,313.3 L1266.0,313.4 L1265.0,313.5 L1264.0,313.5 L1263.0,313.6 L1262.1,313.6 L1261.1,313.7 L1260.1,313.8 L1259.1,313.8 L1258.1,313.9 L1257.1,314.0 L1256.1,314.0 L1255.1,314.1 L1254.1,314.2 L1253.1,314.2 L1252.1,314.3 L1251.1,314.3 L1250.1,314.4 L1249.2,314.5 L1248.2,314.5 L1247.2,314.6 L1246.2,314.7 L1245.2,314.7 L1244.2,314.8 L1243.2,314.9 L1242.2,314.9 L1241.2,315.0 L1240.2,315.1 L1239.2,315.1 L1238.2,315.2 L1237.2,315.3 L1236.2,315.4 L1235.2,315.4 L1234.3,315.5 L1233.3,315.6 L1232.3,315.6 L1231.3,315.7 L1230.3,315.8 L1229.3,315.9 L1228.3,315.9 L1227.3,316.0 L1226.3,316.1 L1225.3,316.1 L1224.3,316.2 L1223.3,316.3 L1222.3,316.4 L1221.3,316.4 L1220.3,316.5 L1219.3,316.6 L1218.3,316.7 L1217.3,316.7 L1216.3,316.8 L1215.3,316.9 L1214.3,317.0 L1213.3,317.1 L1212.3,317.1 L1211.3,317.2 L1210.3,317.3 L1209.3,317.4 L1208.3,317.5 L1207.3,317.5 L1206.3,317.6 L1205.3,317.7 L1204.3,317.8 L1203.3,317.9 L1202.3,317.9 L1201.3,318.0 L1200.3,318.1 L1199.3,318.2 L1198.3,318.3 L1197.3,318.4 L1196.3,318.5 L1195.3,318.5 L1194.3,318.6 L1193.3,318.7 L1192.3,318.8 L1191.3,318.9 L1190.3,319.0 L1189.3,319.1 L1188.3,319.2 L1187.3,319.3 L1186.3,319.3 L1185.3,319.4 L1184.3,319.5 L1183.3,319.6 L1182.3,319.7 L1181.3,319.8 L1180.3,319.9 L1179.3,320.0 L1178.3,320.1 L1177.3,320.2 L1176.3,320.3 L1175.3,320.4 L1174.3,320.5 L1173.3,320.6 L1172.3,320.7 L1171.2,320.8 L1170.2,320.9 L1169.2,321.0 L1168.2,321.1 L1167.2,321.2 L1166.2,321.3 L1165.2,321.4 L1164.2,321.5 L1163.2,321.6 L1162.2,321.7 L1161.2,321.8 L1160.1,321.9 L1159.1,322.0 L1158.1,322.1 L1157.1,322.2 L1156.1,322.3 L1155.1,322.5 L1154.1,322.6 L1153.1,322.7 L1152.1,322.8 L1151.0,322.9 L1150.0,323.0 L1149.0,323.1 L1148.0,323.2 L1147.0,323.4 L1146.0,323.5 L1145.0,323.6 L1143.9,323.7 L1142.9,323.8 L1141.9,323.9 L1140.9,324.1 L1139.9,324.2 L1138.9,324.3 L1137.9,324.4 L1136.8,324.5 L1135.8,324.7 L1134.8,324.8 L1133.8,324.9 L1132.8,325.0 L1131.7,325.2 L1130.7,325.3 L1129.7,325.4 L1128.7,325.6 L1127.7,325.7 L1126.7,325.8 L1125.6,326.0 L1124.6,326.1 L1123.6,326.2 L1122.6,326.4 L1121.6,326.5 L1120.6,326.6 L1119.5,326.8 L1118.5,326.9 L1117.5,327.1 L1116.5,327.2 L1115.5,327.4 L1114.5,327.5 L1113.5,327.7 L1112.5,327.9 L1111.4,328.0 L1110.4,328.2 L1109.4,328.3 L1108.4,328.5 L1107.4,328.7 L1106.4,328.8 L1105.4,329.0 L1104.4,329.2 L1103.4,329.4 L1102.4,329.6 L1101.4,329.7 L1100.4,329.9 L1099.4,330.1 L1098.4,330.3 L1097.4,330.5 L1096.4,330.7 L1095.4,330.9 L1094.4,331.1 L1093.4,331.3 L1092.4,331.5 L1091.4,331.7 L1090.5,332.0 L1089.5,332.2 L1088.5,332.4 L1087.5,332.6 L1086.5,332.9 L1085.5,333.1 L1084.6,333.3 L1083.6,333.6 L1082.6,333.8 L1081.6,334.1 L1080.7,334.3 L1079.7,334.6 L1078.7,334.8 L1077.8,335.1 L1076.8,335.4 L1075.9,335.6 L1074.9,335.9 L1074.0,336.2 L1073.0,336.5 L1072.0,336.8 L1071.1,337.1 L1070.2,337.4 L1069.2,337.7 L1068.3,338.0 L1067.3,338.3 L1066.4,338.6 L1065.5,338.9 L1064.5,339.3 L1063.6,339.6 L1062.7,339.9 L1061.8,340.3 L1060.8,340.6 L1059.9,341.0 L1059.0,341.3 L1058.1,341.7 L1057.2,342.0 L1056.3,342.4 L1055.4,342.8 L1054.5,343.2 L1053.6,343.5 L1052.7,343.9 L1051.8,344.3 L1050.9,344.7 L1050.0,345.1 L1049.1,345.5 L1048.3,346.0 L1047.4,346.4 L1046.5,346.8 L1045.6,347.3 L1044.8,347.7 L1043.9,348.1 L1043.1,348.6 L1042.2,349.1 L1041.4,349.5 L1040.5,350.0 L1039.7,350.5 L1038.8,351.0 L1038.0,351.4 L1037.2,351.9 L1036.3,352.4 L1035.5,352.9 L1034.7,353.5 L1033.9,354.0 L1033.1,354.5 L1032.2,355.0 L1031.4,355.6 L1030.6,356.1 L1029.8,356.7 L1029.0,357.2 L1028.2,357.8 L1027.5,358.4 L1026.7,358.9 L1025.9,359.5 L1025.1,360.1 L1024.3,360.7 L1023.6,361.3 L1022.8,361.9 L1022.0,362.5 L1021.3,363.1 L1020.5,363.7 L1019.8,364.3 L1019.0,364.9 L1018.3,365.6 L1017.5,366.2 L1016.8,366.8 L1016.0,367.5 L1015.3,368.1 L1014.6,368.8 L1013.8,369.4 L1013.1,370.1 L1012.4,370.8 L1011.7,371.5 L1011.0,372.1 L1010.3,372.8 L1009.6,373.5 L1008.9,374.2 L1008.2,374.9 L1007.5,375.6 L1006.8,376.3 L1006.1,377.0 L1005.4,377.7 L1004.7,378.4 L1004.0,379.2 L1003.3,379.9 L1002.7,380.6 L1002.0,381.3 L1001.3,382.1 L1000.7,382.8 L1000.0,383.6 L999.3,384.3 L998.7,385.1 L998.0,385.8 L997.4,386.6 L996.7,387.3 L996.1,388.1 L995.5,388.9 L994.8,389.7 L994.2,390.4 L993.6,391.2 L992.9,392.0 L992.3,392.8 L991.7,393.6 L991.1,394.4 L990.4,395.2 L989.8,396.0 L989.2,396.8 L988.6,397.6 L988.0,398.4 L987.4,399.2 L986.8,400.0 L986.2,400.9 L985.6,401.7 L985.0,402.5 L984.5,403.3 L983.9,404.2 L983.3,405.0 L982.7,405.8 L982.1,406.7 L981.6,407.5 L981.0,408.4 L980.4,409.2 L979.9,410.1 L979.3,410.9 L978.8,411.8 L978.2,412.6 L977.6,413.5 L977.1,414.4 L976.5,415.2 L976.0,416.1 L975.5,416.9 L974.9,417.8 L974.4,418.7 L973.9,419.6 L973.3,420.4 L972.8,421.3 L972.3,422.2 L971.8,423.1 L971.2,424.0 L970.7,424.8 L970.2,425.7 L969.7,426.6 L969.2,427.5 L968.7,428.4 L968.2,429.3 L967.7,430.2 L967.2,431.1 L966.7,432.0 L966.2,432.9 L965.7,433.8 L965.2,434.7 L964.7,435.6 L964.2,436.5 L963.8,437.4 L963.3,438.3 L962.8,439.2 L962.3,440.1 L961.9,441.0 L961.4,441.9 L960.9,442.8 L960.5,443.7 L960.0,444.6 L959.6,445.5 L959.1,446.5 L958.6,447.4 L958.2,448.3 L957.7,449.2 L957.3,450.1 L956.9,451.0 L956.4,451.9 L956.0,452.9 L955.5,453.8 L955.1,454.7 L954.7,455.6 L954.2,456.5 L953.8,457.4 L953.4,458.4 L953.0,459.3 L952.5,460.2 L952.1,461.1 L951.7,462.0 L951.3,462.9 L950.9,463.9 L950.5,464.8 L950.1,465.7 L949.7,466.6 L949.3,467.5 L948.9,468.5 L948.5,469.4 L948.1,470.3 L947.7,471.2 L947.3,472.2 L946.9,473.1 L946.5,474.0 L946.1,474.9 L945.7,475.9 L945.3,476.8 L944.9,477.7 L944.6,478.6 L944.2,479.6 L943.8,480.5 L943.4,481.4 L943.0,482.3 L942.7,483.3 L942.3,484.2 L941.9,485.1 L941.6,486.0 L941.2,487.0 L940.8,487.9 L940.5,488.8 L940.1,489.8 L939.7,490.7 L939.4,491.6 L939.0,492.6 L938.7,493.5 L938.3,494.4 L938.0,495.3 L937.6,496.3 L937.3,497.2 L936.9,498.1 L936.6,499.1 L936.2,500.0 L935.9,500.9 L935.5,501.9 L935.2,502.8 L934.8,503.7 L934.5,504.7 L934.2,505.6 L933.8,506.5 L933.5,507.5 L933.2,508.4 L932.8,509.4 L932.5,510.3 L932.2,511.2 L931.8,512.2 L931.5,513.1 L931.2,514.0 L930.8,515.0 L930.5,515.9 L930.2,516.9 L929.9,517.8 L929.5,518.7 L929.2,519.7 L928.9,520.6 L928.6,521.5 L928.2,522.5 L927.9,523.4 L927.6,524.4 L927.3,525.3 L927.0,526.2 L926.6,527.2 L926.3,528.1 L926.0,529.1 L925.7,530.0 L925.4,531.0 L925.1,531.9 L924.8,532.8 L924.4,533.8 L924.1,534.7 L923.8,535.7 L923.5,536.6 L923.2,537.6 L922.9,538.5 L922.6,539.4 L922.3,540.4 L922.0,541.3 L921.6,542.3 L921.3,543.2 L921.0,544.2 L920.7,545.1 L920.4,546.1 L920.1,547.0 L919.8,547.9 L919.5,548.9 L919.2,549.8 L918.9,550.8 L918.6,551.7 L918.3,552.7 L918.0,553.6 L917.7,554.6 L917.4,555.5 L917.1,556.5 L916.8,557.4 L916.4,558.4 L916.1,559.3 L915.8,560.3 L915.5,561.2 L915.2,562.2 L914.9,563.1 L914.6,564.1 L914.3,565.0 L914.0,566.0 L913.7,566.9 L913.4,567.9 L913.1,568.8 L912.8,569.8 L912.5,570.7 L912.2,571.7 L911.9,572.6 L911.6,573.6 L911.3,574.5 L911.0,575.5 L910.7,576.4 L910.4,577.4 L910.1,578.3 L909.8,579.3 L909.5,580.2 L909.2,581.2 L909.0,582.1 L908.7,583.1 L908.4,584.0 L908.1,585.0 L907.8,585.9 L907.5,586.9 L907.2,587.8 L906.9,588.8 L906.6,589.8 L906.3,590.7 L906.0,591.7 L905.7,592.6 L905.4,593.6 L905.1,594.5 L904.8,595.5 L904.5,596.4 L904.2,597.4 L903.9,598.3 L903.7,599.3 L903.4,600.3 L903.1,601.2 L902.8,602.2 L902.5,603.1 L902.2,604.1 L901.9,605.0 L901.6,606.0 L901.3,606.9 L901.0,607.9 L900.7,608.9 L900.5,609.8 L900.2,610.8 L899.9,611.7 L899.6,612.7 L899.3,613.6 L899.0,614.6 L898.7,615.6 L898.4,616.5 L898.1,617.5 L897.9,618.4 L897.6,619.4 L897.3,620.4 L897.0,621.3 L896.7,622.3 L896.4,623.2 L896.1,624.2 L895.8,625.1 L895.6,626.1 L895.3,627.1 L895.0,628.0 L894.7,629.0 L894.4,629.9 L894.1,630.9 L893.8,631.9 L893.6,632.8 L893.3,633.8 L893.0,634.7 L892.7,635.7 L892.4,636.7 L892.1,637.6 L891.9,638.6 L891.6,639.5 L891.3,640.5 L891.0,641.5 L890.7,642.4 L890.4,643.4 L890.2,644.4 L889.9,645.3 L889.6,646.3 L889.3,647.2 L889.0,648.2 L888.7,649.2 L888.5,650.1 L888.2,651.1 L887.9,652.0 L887.6,653.0 L887.3,654.0 L887.1,654.9 L886.8,655.9 L886.5,656.9 L886.2,657.8 L885.9,658.8 L885.7,659.7 L885.4,660.7 L885.1,661.7 L884.8,662.6 L884.5,663.6 L884.3,664.6 L884.0,665.5 L883.7,666.5 L883.4,667.4 L883.1,668.4 L882.9,669.4 L882.6,670.3 L882.3,671.3 L882.0,672.3 L881.8,673.2 L881.5,674.2 L881.2,675.2 L880.9,676.1 L880.6,677.1 L880.4,678.1 L880.1,679.0 L879.8,680.0 L879.5,680.9 L879.3,681.9 L879.0,682.9 L878.7,683.8 L878.4,684.8 L878.2,685.8 L877.9,686.7 L877.6,687.7 L877.3,688.7 L877.1,689.6 L876.8,690.6 L876.5,691.6 L876.2,692.5 L876.0,693.5 L875.7,694.5 L875.4,695.4 L875.1,696.4 L874.9,697.3 L874.6,698.3 L874.3,699.3 L874.0,700.2 L873.8,701.2 L873.5,702.2 L873.2,703.1 L872.9,704.1 L872.7,705.1 L872.4,706.0 L872.1,707.0 L871.8,708.0 L871.6,708.9 L871.3,709.9 L871.0,710.9 L870.7,711.8 L870.5,712.8 L870.2,713.8 L869.9,714.7 L869.7,715.7 L869.4,716.7 L869.1,717.6 L868.8,718.6 L868.6,719.6 L868.3,720.5 L868.0,721.5 L867.7,722.5 L867.5,723.4 L867.2,724.4 L866.9,725.4 L866.7,726.3 L866.4,727.3 L866.1,728.3 L865.8,729.2 L865.6,730.2 L865.3,731.2 L865.0,732.1 L864.8,733.1 L864.5,734.1 L864.2,735.0 L863.9,736.0 L863.7,737.0 L863.4,737.9 L863.1,738.9 L862.9,739.8 L862.6,740.8 L862.3,741.8 L862.0,742.7 L861.8,743.7 L861.5,744.7 L861.2,745.6 L861.0,746.6 L860.7,747.6 L860.4,748.5 L860.2,749.5 L859.9,750.5 L859.6,751.4 L859.3,752.4 L859.1,753.4 L858.8,754.3 L858.5,755.3 L858.3,756.3 L858.0,757.2 L857.7,758.2 L857.5,759.2 L857.2,760.1 L856.9,761.1 L856.6,762.1 L856.4,763.0 L856.1,764.0 L855.8,765.0 L855.6,765.9 L855.3,766.9 L855.0,767.9 L854.8,768.8 L854.5,769.8 L854.2,770.8 L853.9,771.7 L853.7,772.7 L853.4,773.7 L853.1,774.6 L852.9,775.6 L852.6,776.6 L852.3,777.5 L852.1,778.5 L851.8,779.5 L851.5,780.4 L851.2,781.4 L851.0,782.3 L850.7,783.3 L850.4,784.3 L850.2,785.2 L849.9,786.2 L849.6,787.2 L849.3,788.1 L849.1,789.1 L848.8,790.1 L848.5,791.0 L848.2,792.0 L848.0,792.9 L847.7,793.9 L847.4,794.9 L847.1,795.8 L846.9,796.8 L846.6,797.8 L846.3,798.7 L846.0,799.7 L845.7,800.6 L845.5,801.6 L845.2,802.6 L844.9,803.5 L844.6,804.5 L844.3,805.4 L844.0,806.4 L843.8,807.4 L843.5,808.3 L843.2,809.3 L842.9,810.2 L842.6,811.2 L842.3,812.2 L842.0,813.1 L841.8,814.1 L841.5,815.0 L841.2,816.0 L840.9,816.9 L840.6,817.9 L840.3,818.8 L840.0,819.8 L839.7,820.8 L839.4,821.7 L839.1,822.7 L838.8,823.6 L838.5,824.6 L838.2,825.5 L837.9,826.5 L837.6,827.4 L837.3,828.4 L837.0,829.3 L836.7,830.3 L836.4,831.2 L836.1,832.2 L835.8,833.1 L835.4,834.1 L835.1,835.0 L834.8,836.0 L834.5,836.9 L834.2,837.9 L833.9,838.8 L833.5,839.8 L833.2,840.7 L832.9,841.6 L832.6,842.6 L832.3,843.5 L831.9,844.5 L831.6,845.4 L831.3,846.4 L830.9,847.3 L830.6,848.2 L830.3,849.2 L829.9,850.1 L829.6,851.1 L829.3,852.0 L828.9,852.9 L828.6,853.9 L828.2,854.8 L827.9,855.7 L827.5,856.7 L827.2,857.6 L826.8,858.5 L826.5,859.5 L826.1,860.4 L825.8,861.3 L825.4,862.3 L825.1,863.2 L824.7,864.1 L824.3,865.1 L824.0,866.0 L823.6,866.9 L823.3,867.8 L822.9,868.8 L822.5,869.7 L822.1,870.6 L821.8,871.5 L821.4,872.5 L821.0,873.4 L820.6,874.3 L820.2,875.2 L819.9,876.1 L819.5,877.1 L819.1,878.0 L818.7,878.9 L818.3,879.8 L817.9,880.7 L817.5,881.7 L817.1,882.6 L816.7,883.5 L816.3,884.4 L815.9,885.3 L815.5,886.2 L815.1,887.1 L814.6,888.0 L814.2,888.9 L813.8,889.9 L813.4,890.8 L813.0,891.7 L812.5,892.6 L812.1,893.5 L811.7,894.4 L811.3,895.3 L810.8,896.2 L810.4,897.1 L809.9,898.0 L809.5,898.9 L809.0,899.8 L808.6,900.7 L808.1,901.5 L807.7,902.4 L807.2,903.3 L806.7,904.2 L806.3,905.1 L805.8,906.0 L805.3,906.9 L804.8,907.7 L804.3,908.6 L803.8,909.5 L803.3,910.4 L802.8,911.2 L802.3,912.1 L801.8,913.0 L801.3,913.8 L800.8,914.7 L800.3,915.5 L799.7,916.4 L799.2,917.2 L798.6,918.1 L798.1,918.9 L797.5,919.8 L797.0,920.6 L796.4,921.4 L795.8,922.3 L795.2,923.1 L794.7,923.9 L794.1,924.7 L793.5,925.5 L792.8,926.3 L792.2,927.1 L791.6,927.9 L790.9,928.6 L790.3,929.4 L789.6,930.1 L788.9,930.8 L788.2,931.5 L787.4,932.2 L786.7,932.8 L785.9,933.5 L785.1,934.1 L784.3,934.7 L783.5,935.2 L782.7,935.8 L781.8,936.3 L780.9,936.7 L780.0,937.2 L779.1,937.6 L778.2,937.9 L777.2,938.2 L776.3,938.5 L775.3,938.7 L774.3,938.9 L773.4,938.9 L772.4,939.0 L771.4,938.9 L770.4,938.8 L769.4,938.7 L768.5,938.5 L767.5,938.3 L766.5,938.0 L765.6,937.7 L764.6,937.3 L763.7,936.9 L762.7,936.5 L761.8,936.0 L760.9,935.6 L760.0,935.1 L759.2,934.5 L758.3,934.0 L757.5,933.5 L756.7,932.9 L755.9,932.3 L755.1,931.7 L754.3,931.1 L753.5,930.5 L752.7,929.8 L752.0,929.2 L751.3,928.5 L750.5,927.9 L749.8,927.2 L749.1,926.5 L748.4,925.8 L747.7,925.1 L747.0,924.3 L746.3,923.6 L745.6,922.9 L744.9,922.1 L744.3,921.4 L743.6,920.7 L742.9,919.9 L742.3,919.2 L741.6,918.4 L741.0,917.6 L740.3,916.9 L739.6,916.1 L739.0,915.4 L738.4,914.6 L737.7,913.8 L737.1,913.0 L736.4,912.3 L735.8,911.5 L735.1,910.7 L734.5,909.9 L733.9,909.1 L733.2,908.4 L732.6,907.6 L732.0,906.8 L731.4,906.0 L730.7,905.2 L730.1,904.4 L729.5,903.6 L728.9,902.8 L728.2,902.0 L727.6,901.2 L727.0,900.4 L726.4,899.6 L725.8,898.9 L725.2,898.1 L724.5,897.3 L723.9,896.5 L723.3,895.7 L722.7,894.9 L722.1,894.1 L721.4,893.3 L720.8,892.5 L720.2,891.7 L719.6,890.9 L719.0,890.1 L718.4,889.3 L717.7,888.5 L717.1,887.7 L716.5,886.9 L715.9,886.1 L715.3,885.3 L714.6,884.5 L714.0,883.7 L713.4,883.0 L712.8,882.2 L712.1,881.4 L711.5,880.6 L710.9,879.8 L710.3,879.0 L709.6,878.3 L709.0,877.5 L708.3,876.7 L707.7,875.9 L707.1,875.2 L706.4,874.4 L705.8,873.6 L705.1,872.9 L704.5,872.1 L703.8,871.4 L703.2,870.6 L702.5,869.9 L701.9,869.1 L701.2,868.4 L700.5,867.6 L699.9,866.9 L699.2,866.2 L698.5,865.4 L697.8,864.7 L697.2,864.0 L696.5,863.3 L695.8,862.6 L695.1,861.9 L694.4,861.1 L693.7,860.4 L693.0,859.7 L692.3,859.1 L691.6,858.4 L690.9,857.7 L690.1,857.0 L689.4,856.3 L688.7,855.7 L687.9,855.0 L687.2,854.3 L686.5,853.7 L685.7,853.0 L685.0,852.4 L684.2,851.8 L683.4,851.1 L682.7,850.5 L681.9,849.9 L681.1,849.3 L680.3,848.6 L679.6,848.0 L678.8,847.4 L678.0,846.9 L677.2,846.3 L676.3,845.7 L675.5,845.1 L674.7,844.6 L673.9,844.0 L673.1,843.4 L672.2,842.9 L671.4,842.3 L670.5,841.8 L669.7,841.3 L668.8,840.8 L668.0,840.2 L667.1,839.7 L666.3,839.2 L665.4,838.7 L664.5,838.2 L663.6,837.8 L662.7,837.3 L661.9,836.8 L661.0,836.3 L660.1,835.9 L659.2,835.4 L658.3,835.0 L657.4,834.5 L656.5,834.1 L655.6,833.7 L654.6,833.2 L653.7,832.8 L652.8,832.4 L651.9,832.0 L651.0,831.6 L650.0,831.2 L649.1,830.8 L648.2,830.5 L647.2,830.1 L646.3,829.7 L645.3,829.4 L644.4,829.0 L643.5,828.7 L642.5,828.3 L641.6,828.0 L640.6,827.7 L639.7,827.3 L638.7,827.0 L637.7,826.7 L636.8,826.4 L635.8,826.1 L634.9,825.8 L633.9,825.6 L632.9,825.3 L632.0,825.0 L631.0,824.8 L630.0,824.5 L629.1,824.2 L628.1,824.0 L627.1,823.8 L626.1,823.5 L625.2,823.3 L624.2,823.1 L623.2,822.9 L622.2,822.7 L621.3,822.5 L620.3,822.3 L619.3,822.1 L618.3,821.9 L617.4,821.8 L616.4,821.6 L615.4,821.4 L614.4,821.3 L613.4,821.1 L612.4,821.0 L611.5,820.8 L610.5,820.7 L609.5,820.6 L608.5,820.4 L607.5,820.3 L606.5,820.2 L605.5,820.1 L604.5,820.0 L603.6,819.9 L602.6,819.8 L601.6,819.7 L600.6,819.6 L599.6,819.5 L598.6,819.4 L597.6,819.4 L596.6,819.3 L595.6,819.2 L594.6,819.2 L593.6,819.1 L592.6,819.1 L591.6,819.0 L590.6,819.0 L589.6,818.9 L588.6,818.9 L587.6,818.8 L586.6,818.8 L585.6,818.8 L584.6,818.8 L583.6,818.7 L582.6,818.7 L581.6,818.7 L580.6,818.7 L579.6,818.7 L578.6,818.7 L577.6,818.7 L576.6,818.7 L575.6,818.7 L574.6,818.7 L573.6,818.7 L572.6,818.7 L571.6,818.7 L570.6,818.8 L569.6,818.8 L568.6,818.8 L567.6,818.8 L566.6,818.8 L565.6,818.9 L564.5,818.9 L563.5,818.9 L562.5,819.0 L561.5,819.0 L560.5,819.0 L559.5,819.1 L558.5,819.1 L557.5,819.2 L556.5,819.2 L555.5,819.3 L554.5,819.3 L553.5,819.4 L552.5,819.4 L551.5,819.5 L550.5,819.5 L549.5,819.6 L548.4,819.6 L547.4,819.7 L546.4,819.7 L545.4,819.8 L544.4,819.8 L543.4,819.9 L542.4,819.9 L541.4,820.0 L540.4,820.1 L539.4,820.1 L538.4,820.2 L537.4,820.2 L536.4,820.3 L535.4,820.4 L534.4,820.4 L533.4,820.5 L532.4,820.5 L531.4,820.6 L530.4,820.6 L529.3,820.7 L528.3,820.8 L527.3,820.8 L526.3,820.9 L525.3,820.9 L524.3,821.0 L523.3,821.0 L522.3,821.1 L521.3,821.1 L520.3,821.2 L519.3,821.3 L518.3,821.3 L517.3,821.4 L516.3,821.4 L515.3,821.5 L514.3,821.5 L513.3,821.6 L512.3,821.6 L511.3,821.7 L510.3,821.7 L509.3,821.8 L508.4,821.8 L507.4,821.9 L506.4,821.9 L505.4,821.9 L504.4,822.0 L503.4,822.0 L502.4,822.1 L501.4,822.1 L500.4,822.2 L499.4,822.2 L498.4,822.3 L497.4,822.3 L496.4,822.4 L495.4,822.4 L494.4,822.4 L493.4,822.5 L492.4,822.5 L491.4,822.6 L490.4,822.6 L489.4,822.6 L488.4,822.7 L487.4,822.7 L486.4,822.8 L485.4,822.8 L484.4,822.8 L483.5,822.9 L482.5,822.9 L481.5,823.0 L480.5,823.0 L479.5,823.0 L478.5,823.1 L477.5,823.1 L476.5,823.1 L475.5,823.2 L474.5,823.2 L473.5,823.2 L472.5,823.3 L471.5,823.3 L470.5,823.3 L469.5,823.4 L468.5,823.4 L467.5,823.4 L466.5,823.5 L465.5,823.5 L464.6,823.5 L463.6,823.6 L462.6,823.6 L461.6,823.6 L460.6,823.6 L459.6,823.7 L458.6,823.7 L457.6,823.7 L456.6,823.8 L455.6,823.8 L454.6,823.8 L453.6,823.8 L452.6,823.9 L451.6,823.9 L450.6,823.9 L449.6,823.9 L448.6,824.0 L447.6,824.0 L446.6,824.0 L445.6,824.0 L444.6,824.1 L443.6,824.1 L442.6,824.1 L441.6,824.1 L440.6,824.2 L439.6,824.2 L438.6,824.2 L437.6,824.2 L436.6,824.2 L435.6,824.3 L434.6,824.3 L433.6,824.3 L432.6,824.3 L431.6,824.3 L430.6,824.4 L429.6,824.4 L428.6,824.4 L427.6,824.4 L426.6,824.4 L425.6,824.5 L424.6,824.5 L423.6,824.5 L422.6,824.5 L421.6,824.5 L420.6,824.5 L419.6,824.5 L418.6,824.6 L417.6,824.6 L416.6,824.6 L415.6,824.6 L414.6,824.6 L413.6,824.6 L412.6,824.6 L411.5,824.7 L410.5,824.7 L409.5,824.7 L408.5,824.7 L407.5,824.7 L406.5,824.7 L405.5,824.7 L404.5,824.7 L403.5,824.7 L402.5,824.8 L401.5,824.8 L400.4,824.8 L399.4,824.8 L398.4,824.8 L397.4,824.8"/>
</g>
<rect x="257" y="28" width="1544" height="1132" fill="none" stroke="#000" stroke-width="10" stroke-linejoin="miter"/>
<g fill="#000">
<rect x="392.4" y="1144.5" width="10" height="15.5" rx="5" ry="4.5"/>
<rect x="532.7" y="1132.0" width="10" height="28.0" rx="5" ry="4.5"/>
<rect x="673.1" y="1144.5" width="10" height="15.5" rx="5" ry="4.5"/>
<rect x="813.5" y="1132.0" width="10" height="28.0" rx="5" ry="4.5"/>
<rect x="953.8" y="1144.5" width="10" height="15.5" rx="5" ry="4.5"/>
<rect x="1094.2" y="1132.0" width="10" height="28.0" rx="5" ry="4.5"/>
<rect x="1234.5" y="1144.5" width="10" height="15.5" rx="5" ry="4.5"/>
<rect x="1374.9" y="1132.0" width="10" height="28.0" rx="5" ry="4.5"/>
<rect x="1515.3" y="1144.5" width="10" height="15.5" rx="5" ry="4.5"/>
<rect x="1655.6" y="1132.0" width="10" height="28.0" rx="5" ry="4.5"/>
<rect x="257" y="1042.3" width="27.0" height="9" rx="3" ry="3"/>
<rect x="257" y="929.1" width="16.0" height="9" rx="3" ry="3"/>
<rect x="257" y="815.9" width="27.0" height="9" rx="3" ry="3"/>
<rect x="257" y="702.7" width="16.0" height="9" rx="3" ry="3"/>
<rect x="257" y="589.5" width="27.0" height="9" rx="3" ry="3"/>
<rect x="257" y="476.3" width="16.0" height="9" rx="3" ry="3"/>
<rect x="257" y="363.1" width="27.0" height="9" rx="3" ry="3"/>
<rect x="257" y="249.9" width="16.0" height="9" rx="3" ry="3"/>
<rect x="257" y="136.7" width="27.0" height="9" rx="3" ry="3"/>
</g>
<g class="tk" text-anchor="middle">
<text transform="translate(256.0,1234) scale(0.965,1)">-0.2</text>
<text transform="translate(536.7,1234) scale(0.965,1)">0.0</text>
<text transform="translate(817.5,1234) scale(0.965,1)">0.2</text>
<text transform="translate(1098.2,1234) scale(0.965,1)">0.4</text>
<text transform="translate(1378.9,1234) scale(0.965,1)">0.6</text>
<text transform="translate(1659.6,1234) scale(0.965,1)">0.8</text>
</g>
<g class="tk" text-anchor="end">
<text transform="translate(233.5,159.0) scale(0.965,1)">0.15</text>
<text transform="translate(233.5,385.4) scale(0.965,1)">0.10</text>
<text transform="translate(233.5,611.8) scale(0.965,1)">0.05</text>
<text transform="translate(233.5,838.2) scale(0.965,1)">0.00</text>
<text transform="translate(233.5,1064.6) scale(0.965,1)">-0.05</text>
</g>
<g class="lb">
<text x="1711" y="802">a</text>
<text x="1708" y="473.5">b</text>
<text x="1703" y="404.5">c</text>
<text x="1698" y="291.5">d</text>
</g>
<text class="ti" y="1329.5"><tspan x="708">E / V ( vs. </tspan><tspan x="1048.5">Ag </tspan><tspan x="1162.5">/ </tspan><tspan x="1204">Ag</tspan><tspan x="1297.5" y="1292.5" style="font-size:53px;font-weight:normal;stroke:#000;stroke-width:0.6px">+</tspan><tspan x="1325.7" y="1329.5" style="font-weight:normal;stroke:#000;stroke-width:1.4px">)</tspan></text>
<text class="ti" text-anchor="middle" transform="translate(80,646) rotate(-90)">I / mA</text>
</svg>
</body>
</html>
